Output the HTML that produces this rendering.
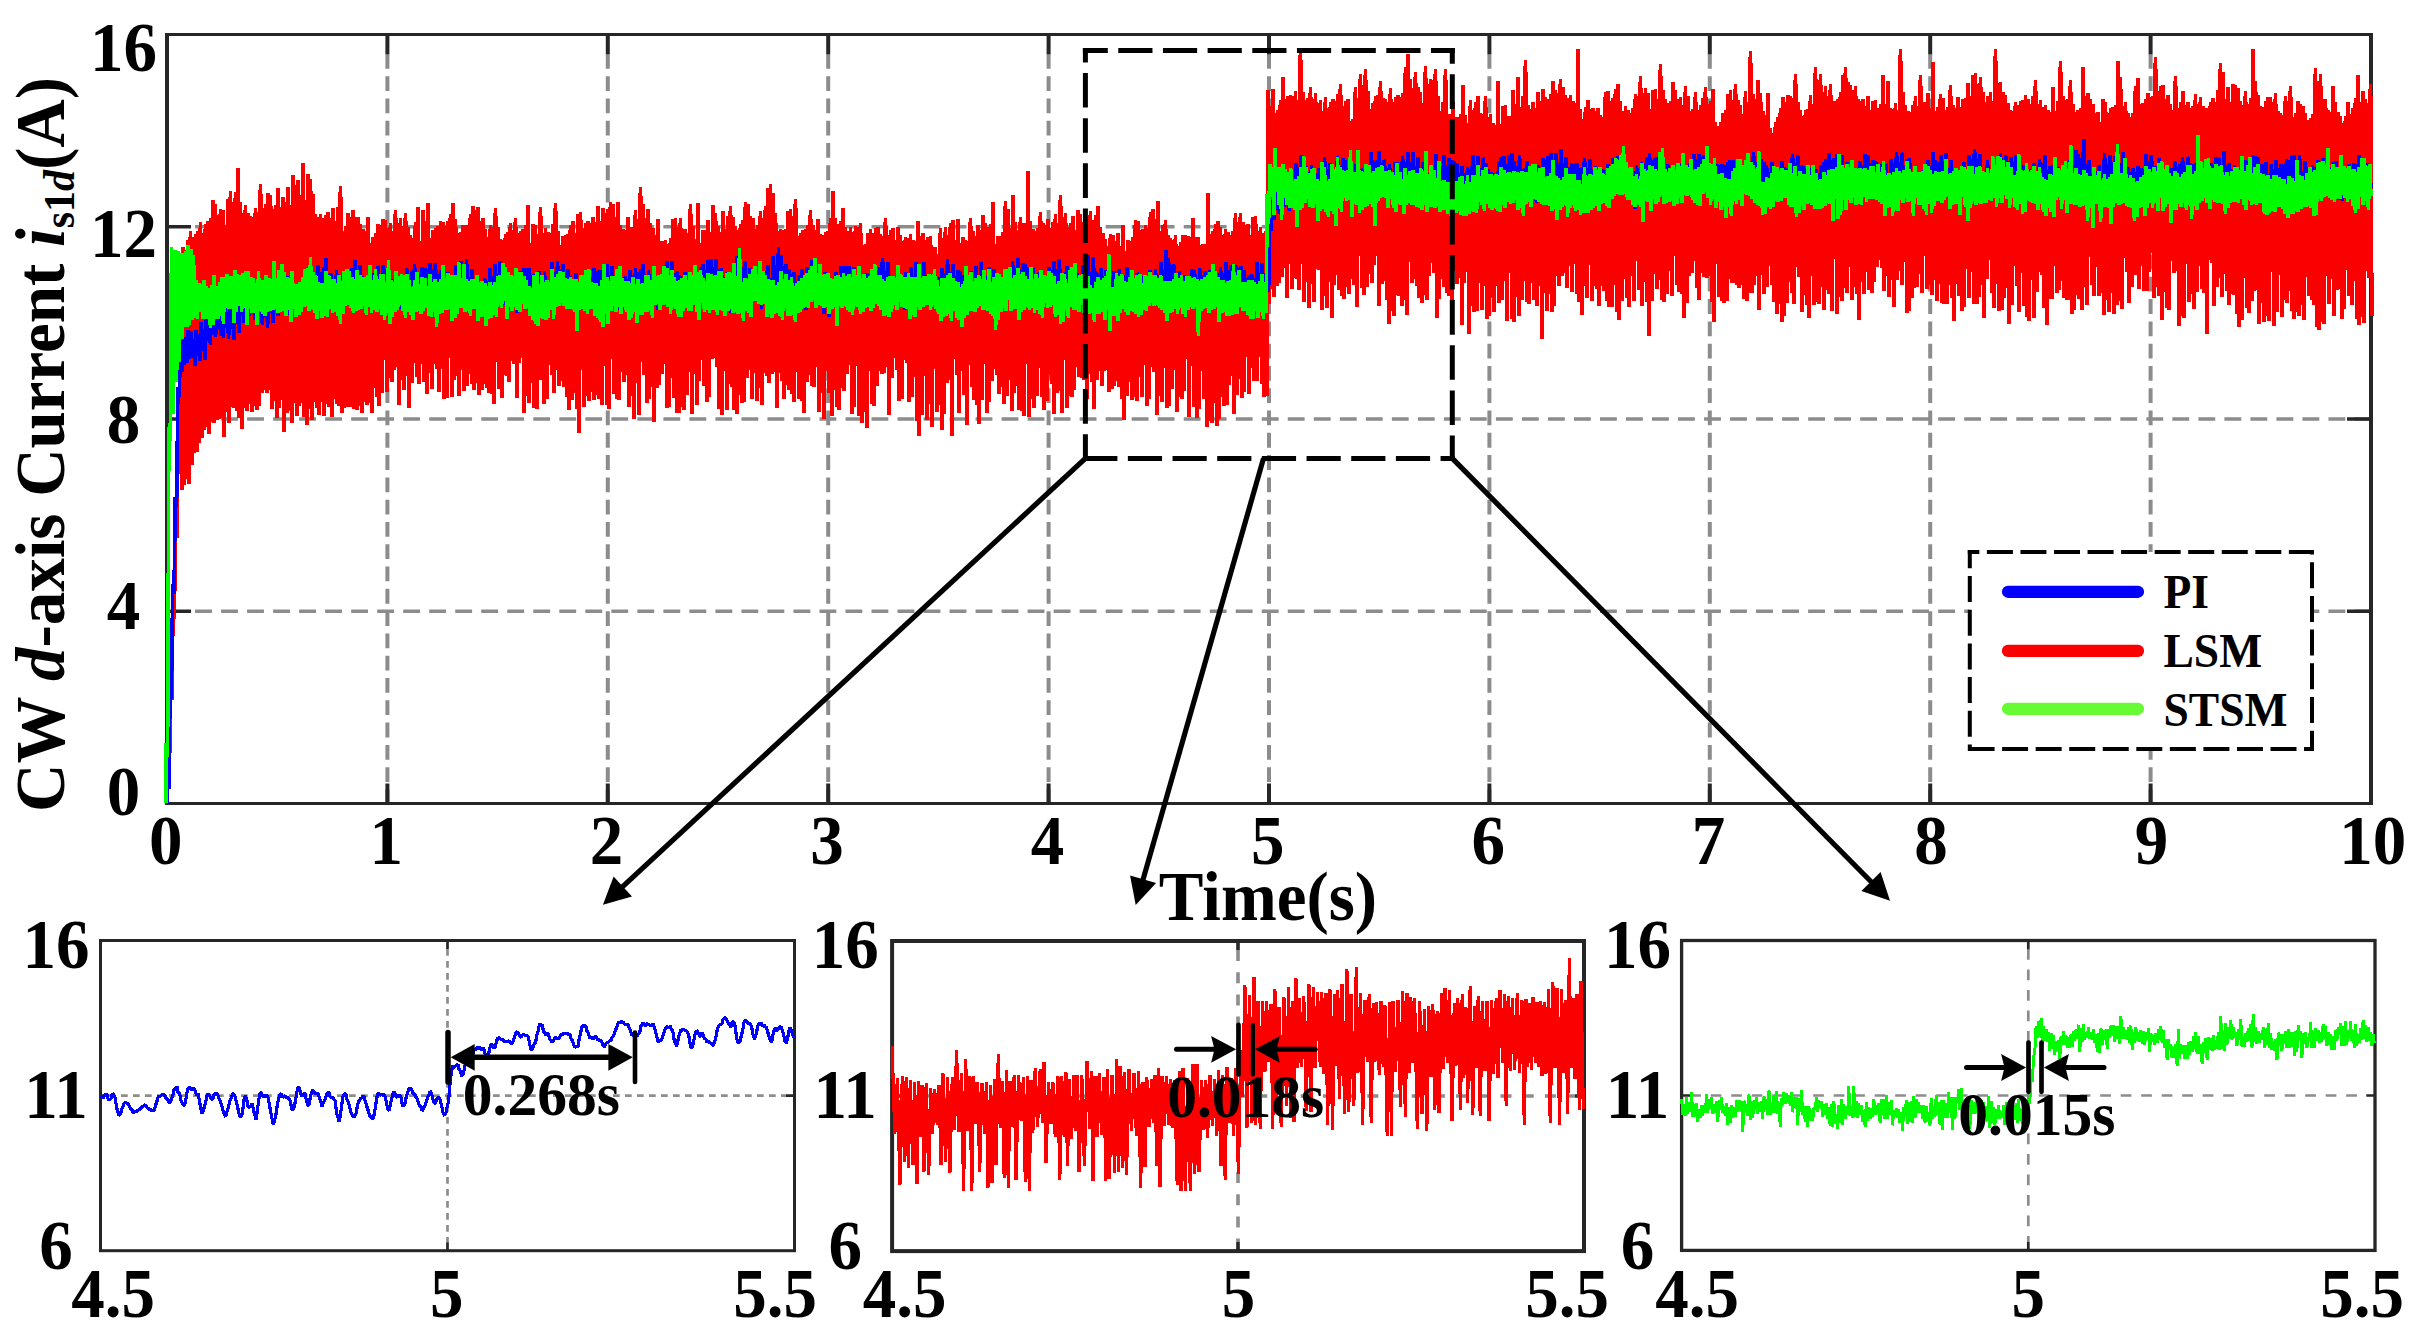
<!DOCTYPE html>
<html lang="en"><head><meta charset="utf-8"><title>CW d-axis Current comparison: PI, LSM, STSM</title>
<style>html,body{margin:0;padding:0;background:#fff;}body{width:2418px;height:1340px;overflow:hidden;}svg{display:block;}</style>
</head><body>
<svg width="2418" height="1340" viewBox="0 0 2418 1340">
<rect x="0" y="0" width="2418" height="1340" fill="#fff"/>
<g id="main-axes" fill="none" stroke="#262626">
<g stroke="#8c8c8c">
<line x1="387.4" y1="54.6" x2="387.4" y2="803.5" stroke-width="4" stroke-dasharray="14.8 7.49" stroke-dashoffset="0.70"/>
<line x1="607.8" y1="54.6" x2="607.8" y2="803.5" stroke-width="4" stroke-dasharray="14.8 7.49" stroke-dashoffset="0.70"/>
<line x1="828.2" y1="54.6" x2="828.2" y2="803.5" stroke-width="4" stroke-dasharray="14.8 7.49" stroke-dashoffset="0.70"/>
<line x1="1048.6" y1="54.6" x2="1048.6" y2="803.5" stroke-width="4" stroke-dasharray="14.8 7.49" stroke-dashoffset="0.70"/>
<line x1="1269.0" y1="54.6" x2="1269.0" y2="803.5" stroke-width="4" stroke-dasharray="14.8 7.49" stroke-dashoffset="0.70"/>
<line x1="1489.4" y1="54.6" x2="1489.4" y2="803.5" stroke-width="4" stroke-dasharray="14.8 7.49" stroke-dashoffset="0.70"/>
<line x1="1709.8" y1="54.6" x2="1709.8" y2="803.5" stroke-width="4" stroke-dasharray="14.8 7.49" stroke-dashoffset="0.70"/>
<line x1="1930.2" y1="54.6" x2="1930.2" y2="803.5" stroke-width="4" stroke-dasharray="14.8 7.49" stroke-dashoffset="0.70"/>
<line x1="2150.6" y1="54.6" x2="2150.6" y2="803.5" stroke-width="4" stroke-dasharray="14.8 7.49" stroke-dashoffset="0.70"/>
<line x1="191.0" y1="611.2" x2="2371.0" y2="611.2" stroke-width="3.4" stroke-dasharray="16.85 9.167" stroke-dashoffset="21.95"/>
<line x1="191.0" y1="419.0" x2="2371.0" y2="419.0" stroke-width="3.4" stroke-dasharray="16.85 9.167" stroke-dashoffset="21.95"/>
<line x1="191.0" y1="226.8" x2="2371.0" y2="226.8" stroke-width="3.4" stroke-dasharray="16.85 9.167" stroke-dashoffset="21.95"/>
</g>
<path d="M165 34.5H2373M165 803.5H2373" stroke-width="3"/>
<path d="M167 33V805M2371 33V805" stroke-width="4"/>
<path d="M387.4 36V54.6M387.4 802V783.4M607.8 36V54.6M607.8 802V783.4M828.2 36V54.6M828.2 802V783.4M1048.6 36V54.6M1048.6 802V783.4M1269.0 36V54.6M1269.0 802V783.4M1489.4 36V54.6M1489.4 802V783.4M1709.8 36V54.6M1709.8 802V783.4M1930.2 36V54.6M1930.2 802V783.4M2150.6 36V54.6M2150.6 802V783.4" stroke-width="4"/>
<path d="M169 611.2H191M2369 611.2H2347M169 419.0H191M2369 419.0H2347M169 226.8H191M2369 226.8H2347" stroke-width="3.4"/>
</g>
<g id="main-data" fill="none" stroke-linejoin="bevel" stroke-linecap="butt" shape-rendering="crispEdges">
<polyline stroke="#fb0000" stroke-width="3.9" points="167.0,803.5 168.0,761.6 169.2,780.8 170.5,680.7 171.8,699.9 173.0,599.9 174.2,619.1 175.5,519.0 176.8,538.3 178.0,438.2 179.2,457.4 180.5,258.7 181.8,489.7 183.0,247.4 184.2,484.9 185.5,250.5 186.8,479.0 188.0,240.0 189.2,484.2 190.5,230.6 191.8,465.0 193.0,236.6 194.2,452.7 195.5,234.0 196.8,452.1 198.0,231.2 199.2,442.6 200.5,222.5 201.8,438.0 203.0,234.0 204.2,429.7 205.5,223.7 206.8,426.9 208.0,220.9 209.2,434.4 210.5,218.5 211.8,422.4 213.0,199.7 214.2,422.6 215.5,203.9 216.8,420.1 218.0,221.3 219.2,419.3 220.5,208.8 221.8,418.2 223.0,210.3 224.2,436.5 225.5,224.7 226.8,412.3 228.0,199.2 229.2,423.1 230.5,190.9 231.8,407.4 233.0,203.5 234.2,407.7 235.5,191.6 236.8,411.1 238.0,168.3 239.2,418.3 240.5,201.6 241.8,428.6 243.0,212.8 244.2,408.4 245.5,204.9 246.8,410.5 248.0,213.4 249.2,404.4 250.5,216.2 251.8,412.3 253.0,217.0 254.2,406.3 255.5,208.5 256.8,410.2 258.0,212.0 259.2,406.1 260.5,184.3 261.8,392.8 263.0,207.8 264.2,389.7 265.5,204.4 266.8,393.1 268.0,193.3 269.2,389.6 270.5,195.2 271.8,409.2 273.0,208.8 274.2,401.3 275.5,204.7 276.8,417.5 278.0,187.8 279.2,407.5 280.5,206.9 281.8,400.2 283.0,197.2 284.2,432.2 285.5,201.7 286.8,413.3 288.0,186.8 289.2,410.5 290.5,205.1 291.8,423.0 293.0,175.5 294.2,402.8 295.5,185.4 296.8,416.0 298.0,180.3 299.2,405.8 300.5,195.1 301.8,403.1 303.0,163.5 304.2,417.3 305.5,200.4 306.8,424.9 308.0,173.6 309.2,408.6 310.5,179.1 311.8,420.0 313.0,194.4 314.2,401.7 315.5,213.7 316.8,408.3 318.0,217.0 319.2,414.5 320.5,214.0 321.8,402.3 323.0,217.7 324.2,415.6 325.5,214.6 326.8,404.0 328.0,212.5 329.2,407.0 330.5,217.6 331.8,417.1 333.0,208.0 334.2,398.8 335.5,221.1 336.8,404.0 338.0,206.7 339.2,405.7 340.5,186.4 341.8,413.4 343.0,231.5 344.2,407.6 345.5,225.8 346.8,407.1 348.0,213.4 349.2,407.0 350.5,217.4 351.8,407.3 353.0,209.9 354.2,409.1 355.5,217.4 356.8,409.9 358.0,216.9 359.2,405.9 360.5,223.8 361.8,412.6 363.0,228.8 364.2,401.7 365.5,231.5 366.8,405.4 368.0,217.0 369.2,403.0 370.5,242.8 371.8,413.1 373.0,237.4 374.2,387.8 375.5,233.2 376.8,396.5 378.0,223.6 379.2,406.1 380.5,225.3 381.8,393.4 383.0,219.5 384.2,360.2 385.5,220.1 386.8,392.3 388.0,231.8 389.2,378.4 390.5,222.8 391.8,381.9 393.0,233.5 394.2,370.0 395.5,209.8 396.8,366.8 398.0,230.2 399.2,405.2 400.5,217.9 401.8,380.3 403.0,242.7 404.2,390.3 405.5,212.9 406.8,375.6 408.0,226.9 409.2,407.5 410.5,235.1 411.8,382.8 413.0,237.9 414.2,362.7 415.5,222.1 416.8,376.6 418.0,206.9 419.2,383.6 420.5,240.7 421.8,363.6 423.0,209.7 424.2,382.2 425.5,221.2 426.8,394.1 428.0,203.2 429.2,373.3 430.5,238.1 431.8,388.5 433.0,230.1 434.2,363.7 435.5,228.0 436.8,368.8 438.0,226.5 439.2,392.4 440.5,220.7 441.8,368.5 443.0,222.5 444.2,399.1 445.5,225.9 446.8,397.6 448.0,220.9 449.2,358.4 450.5,214.1 451.8,396.7 453.0,202.7 454.2,379.6 455.5,219.2 456.8,376.3 458.0,233.2 459.2,396.0 460.5,231.9 461.8,369.7 463.0,224.9 464.2,391.4 465.5,225.0 466.8,385.9 468.0,224.8 469.2,374.1 470.5,214.4 471.8,383.8 473.0,206.5 474.2,389.8 475.5,209.7 476.8,382.7 478.0,207.0 479.2,395.3 480.5,220.7 481.8,389.9 483.0,218.1 484.2,384.3 485.5,228.9 486.8,387.8 488.0,244.4 489.2,392.7 490.5,225.2 491.8,394.0 493.0,227.5 494.2,404.0 495.5,208.3 496.8,362.0 498.0,227.0 499.2,389.4 500.5,239.1 501.8,398.1 503.0,240.0 504.2,375.4 505.5,234.2 506.8,375.5 508.0,232.4 509.2,381.5 510.5,223.0 511.8,360.9 513.0,240.9 514.2,363.5 515.5,218.4 516.8,398.3 518.0,232.8 519.2,363.2 520.5,231.1 521.8,358.0 523.0,228.9 524.2,413.2 525.5,225.2 526.8,396.4 528.0,205.4 529.2,403.1 530.5,242.8 531.8,382.7 533.0,224.4 534.2,408.0 535.5,225.0 536.8,409.0 538.0,244.8 539.2,380.1 540.5,206.9 541.8,380.4 543.0,233.0 544.2,404.0 545.5,228.0 546.8,399.2 548.0,232.0 549.2,365.0 550.5,232.7 551.8,375.4 553.0,224.1 554.2,392.5 555.5,202.6 556.8,369.7 558.0,230.9 559.2,385.7 560.5,245.4 561.8,380.8 563.0,235.8 564.2,386.5 565.5,235.2 566.8,397.3 568.0,234.4 569.2,409.6 570.5,224.7 571.8,400.1 573.0,221.1 574.2,392.9 575.5,233.3 576.8,408.5 578.0,214.0 579.2,432.8 580.5,212.2 581.8,359.9 583.0,229.0 584.2,407.0 585.5,222.7 586.8,395.9 588.0,221.3 589.2,401.1 590.5,222.6 591.8,391.9 593.0,217.3 594.2,399.8 595.5,222.0 596.8,394.6 598.0,206.0 599.2,398.7 600.5,220.7 601.8,405.0 603.0,208.3 604.2,366.4 605.5,213.1 606.8,404.8 608.0,208.6 609.2,408.7 610.5,201.6 611.8,358.6 613.0,204.0 614.2,393.9 615.5,217.0 616.8,399.3 618.0,202.5 619.2,399.9 620.5,225.2 621.8,372.0 623.0,229.0 624.2,381.7 625.5,229.6 626.8,375.4 628.0,216.9 629.2,406.9 630.5,226.6 631.8,395.7 633.0,226.9 634.2,418.7 635.5,209.7 636.8,383.3 638.0,226.1 639.2,414.9 640.5,187.3 641.8,362.1 643.0,203.6 644.2,375.2 645.5,218.1 646.8,402.6 648.0,208.7 649.2,399.4 650.5,223.4 651.8,387.3 653.0,227.8 654.2,421.7 655.5,234.6 656.8,388.4 658.0,218.9 659.2,385.4 660.5,240.7 661.8,373.8 663.0,241.5 664.2,359.3 665.5,240.2 666.8,408.3 668.0,244.4 669.2,407.1 670.5,237.8 671.8,377.6 673.0,219.4 674.2,397.9 675.5,218.3 676.8,412.9 678.0,227.4 679.2,412.6 680.5,217.8 681.8,406.5 683.0,228.9 684.2,409.7 685.5,228.9 686.8,395.3 688.0,233.2 689.2,371.5 690.5,204.0 691.8,413.8 693.0,226.2 694.2,373.8 695.5,239.4 696.8,405.2 698.0,203.1 699.2,381.3 700.5,243.2 701.8,359.9 703.0,229.7 704.2,385.5 705.5,230.4 706.8,402.1 708.0,220.4 709.2,396.6 710.5,232.2 711.8,358.5 713.0,204.8 714.2,358.2 715.5,212.8 716.8,367.2 718.0,225.9 719.2,409.3 720.5,231.7 721.8,414.8 723.0,211.2 724.2,370.7 725.5,228.8 726.8,409.8 728.0,216.2 729.2,383.5 730.5,205.8 731.8,387.1 733.0,217.1 734.2,410.0 735.5,225.7 736.8,413.5 738.0,230.0 739.2,394.6 740.5,224.1 741.8,403.3 743.0,220.3 744.2,401.8 745.5,201.9 746.8,377.7 748.0,204.2 749.2,370.3 750.5,215.6 751.8,398.6 753.0,217.9 754.2,372.9 755.5,228.6 756.8,400.9 758.0,224.7 759.2,387.9 760.5,211.5 761.8,404.8 763.0,218.3 764.2,372.8 765.5,206.4 766.8,376.0 768.0,188.2 769.2,383.3 770.5,183.9 771.8,373.9 773.0,193.4 774.2,371.8 775.5,213.5 776.8,408.0 778.0,230.6 779.2,373.2 780.5,229.1 781.8,381.1 783.0,230.4 784.2,398.6 785.5,228.6 786.8,384.8 788.0,211.0 789.2,389.8 790.5,209.1 791.8,393.9 793.0,216.2 794.2,401.9 795.5,199.5 796.8,372.2 798.0,236.5 799.2,398.9 800.5,233.0 801.8,400.6 803.0,229.7 804.2,413.4 805.5,228.8 806.8,382.3 808.0,225.3 809.2,375.1 810.5,210.1 811.8,386.2 813.0,225.1 814.2,387.3 815.5,230.5 816.8,366.7 818.0,218.9 819.2,411.6 820.5,233.9 821.8,392.9 823.0,235.5 824.2,418.9 825.5,232.4 826.8,370.5 828.0,231.5 829.2,393.4 830.5,217.8 831.8,416.0 833.0,190.9 834.2,389.5 835.5,218.0 836.8,406.8 838.0,223.6 839.2,409.6 840.5,221.5 841.8,387.6 843.0,207.6 844.2,391.0 845.5,227.2 846.8,374.2 848.0,231.4 849.2,363.8 850.5,227.2 851.8,414.1 853.0,232.1 854.2,406.6 855.5,225.9 856.8,366.1 858.0,226.9 859.2,415.8 860.5,223.5 861.8,423.2 863.0,244.8 864.2,412.4 865.5,244.1 866.8,428.1 868.0,233.3 869.2,371.4 870.5,229.5 871.8,403.8 873.0,232.9 874.2,406.0 875.5,228.2 876.8,385.6 878.0,227.5 879.2,370.9 880.5,234.4 881.8,374.0 883.0,236.2 884.2,373.2 885.5,218.4 886.8,367.0 888.0,242.4 889.2,414.8 890.5,229.8 891.8,378.1 893.0,227.7 894.2,358.3 895.5,239.7 896.8,370.4 898.0,227.3 899.2,401.3 900.5,234.6 901.8,398.6 903.0,241.1 904.2,360.3 905.5,236.9 906.8,362.9 908.0,237.8 909.2,401.9 910.5,234.3 911.8,397.4 913.0,240.0 914.2,377.2 915.5,241.1 916.8,421.0 918.0,220.6 919.2,435.8 920.5,236.5 921.8,414.7 923.0,232.8 924.2,376.2 925.5,240.2 926.8,420.2 928.0,237.2 929.2,403.7 930.5,236.4 931.8,426.7 933.0,246.6 934.2,368.8 935.5,247.1 936.8,412.1 938.0,253.7 939.2,404.7 940.5,228.4 941.8,430.0 943.0,257.1 944.2,414.3 945.5,226.7 946.8,382.8 948.0,242.7 949.2,374.2 950.5,223.2 951.8,435.8 953.0,219.8 954.2,358.9 955.5,239.9 956.8,375.1 958.0,218.7 959.2,412.8 960.5,243.1 961.8,370.7 963.0,237.1 964.2,394.9 965.5,240.1 966.8,425.1 968.0,241.3 969.2,364.7 970.5,218.2 971.8,387.0 973.0,231.3 974.2,400.0 975.5,235.6 976.8,405.0 978.0,225.5 979.2,423.7 980.5,229.9 981.8,400.2 983.0,214.8 984.2,363.3 985.5,222.6 986.8,413.2 988.0,227.0 989.2,402.2 990.5,224.5 991.8,381.1 993.0,201.7 994.2,369.0 995.5,244.5 996.8,375.3 998.0,235.6 999.2,393.9 1000.5,235.7 1001.8,386.9 1003.0,232.3 1004.2,403.7 1005.5,200.6 1006.8,395.9 1008.0,208.8 1009.2,379.7 1010.5,228.4 1011.8,410.5 1013.0,195.0 1014.2,393.3 1015.5,222.1 1016.8,386.0 1018.0,230.0 1019.2,409.5 1020.5,216.9 1021.8,411.0 1023.0,223.0 1024.2,416.2 1025.5,223.4 1026.8,364.4 1028.0,171.5 1029.2,417.2 1030.5,221.0 1031.8,399.1 1033.0,229.4 1034.2,408.4 1035.5,231.3 1036.8,395.7 1038.0,228.1 1039.2,367.8 1040.5,212.4 1041.8,396.5 1043.0,223.3 1044.2,410.2 1045.5,224.6 1046.8,400.9 1048.0,219.0 1049.2,374.8 1050.5,228.5 1051.8,384.1 1053.0,221.9 1054.2,413.7 1055.5,213.7 1056.8,393.3 1058.0,223.4 1059.2,391.0 1060.5,195.5 1061.8,412.8 1063.0,223.9 1064.2,360.2 1065.5,213.3 1066.8,408.4 1068.0,227.5 1069.2,395.5 1070.5,223.5 1071.8,396.8 1073.0,216.5 1074.2,390.0 1075.5,230.1 1076.8,367.3 1078.0,210.1 1079.2,376.9 1080.5,214.1 1081.8,378.3 1083.0,223.5 1084.2,379.5 1085.5,215.9 1086.8,399.2 1088.0,219.4 1089.2,373.5 1090.5,210.7 1091.8,381.6 1093.0,230.3 1094.2,409.0 1095.5,214.6 1096.8,379.8 1098.0,206.0 1099.2,371.1 1100.5,227.1 1101.8,385.6 1103.0,233.4 1104.2,371.3 1105.5,238.7 1106.8,369.5 1108.0,248.8 1109.2,391.8 1110.5,233.9 1111.8,388.6 1113.0,234.7 1114.2,386.4 1115.5,240.9 1116.8,381.0 1118.0,232.6 1119.2,386.7 1120.5,245.8 1121.8,398.9 1123.0,224.6 1124.2,419.8 1125.5,251.1 1126.8,395.6 1128.0,239.9 1129.2,381.7 1130.5,240.7 1131.8,400.2 1133.0,237.4 1134.2,397.2 1135.5,220.5 1136.8,400.8 1138.0,220.8 1139.2,377.3 1140.5,230.1 1141.8,397.3 1143.0,229.1 1144.2,365.3 1145.5,225.1 1146.8,406.4 1148.0,227.9 1149.2,399.1 1150.5,211.8 1151.8,366.5 1153.0,209.0 1154.2,371.5 1155.5,218.6 1156.8,415.2 1158.0,200.6 1159.2,396.4 1160.5,231.3 1161.8,401.8 1163.0,224.9 1164.2,368.4 1165.5,220.4 1166.8,408.1 1168.0,235.1 1169.2,405.9 1170.5,238.1 1171.8,388.6 1173.0,240.4 1174.2,369.6 1175.5,235.1 1176.8,411.9 1178.0,245.7 1179.2,397.4 1180.5,241.9 1181.8,399.0 1183.0,234.7 1184.2,391.4 1185.5,235.5 1186.8,359.1 1188.0,236.0 1189.2,416.7 1190.5,237.2 1191.8,366.2 1193.0,218.0 1194.2,407.2 1195.5,236.7 1196.8,417.9 1198.0,237.2 1199.2,408.8 1200.5,245.5 1201.8,370.9 1203.0,244.2 1204.2,398.8 1205.5,244.1 1206.8,427.3 1208.0,192.6 1209.2,421.1 1210.5,233.9 1211.8,422.6 1213.0,230.8 1214.2,403.0 1215.5,224.2 1216.8,426.2 1218.0,221.5 1219.2,418.7 1220.5,226.6 1221.8,396.5 1223.0,237.7 1224.2,406.3 1225.5,229.3 1226.8,404.5 1228.0,232.0 1229.2,385.1 1230.5,234.6 1231.8,375.6 1233.0,231.4 1234.2,413.6 1235.5,213.5 1236.8,395.0 1238.0,224.3 1239.2,379.1 1240.5,213.1 1241.8,397.5 1243.0,222.5 1244.2,392.3 1245.5,225.4 1246.8,356.9 1248.0,224.0 1249.2,393.6 1250.5,234.8 1251.8,367.5 1253.0,216.8 1254.2,381.2 1255.5,216.2 1256.8,381.1 1258.0,235.3 1259.2,357.3 1260.5,226.9 1261.8,383.6 1263.0,233.1 1264.2,397.0 1265.5,231.5 1266.8,395.9 1268.0,90.3 1269.2,304.1 1270.5,106.4 1271.8,289.1 1273.0,89.5 1274.2,297.1 1275.5,113.3 1276.8,286.4 1278.0,110.5 1279.2,282.6 1280.5,99.9 1281.8,277.2 1283.0,77.2 1284.2,268.0 1285.5,99.2 1286.8,297.8 1288.0,96.4 1289.2,263.7 1290.5,95.2 1291.8,289.2 1293.0,95.9 1294.2,277.9 1295.5,90.8 1296.8,278.9 1298.0,100.3 1299.2,290.3 1300.5,48.9 1301.8,264.0 1303.0,91.8 1304.2,302.3 1305.5,100.2 1306.8,282.0 1308.0,98.3 1309.2,308.1 1310.5,87.4 1311.8,284.4 1313.0,106.8 1314.2,302.0 1315.5,93.4 1316.8,269.0 1318.0,103.0 1319.2,269.8 1320.5,100.1 1321.8,310.3 1323.0,112.6 1324.2,296.0 1325.5,97.0 1326.8,307.7 1328.0,108.6 1329.2,281.8 1330.5,102.5 1331.8,317.5 1333.0,99.3 1334.2,285.3 1335.5,101.5 1336.8,275.0 1338.0,94.3 1339.2,289.7 1340.5,84.4 1341.8,295.8 1343.0,112.1 1344.2,299.0 1345.5,101.5 1346.8,287.0 1348.0,98.8 1349.2,294.4 1350.5,120.7 1351.8,278.7 1353.0,119.2 1354.2,285.4 1355.5,87.5 1356.8,307.0 1358.0,111.4 1359.2,255.9 1360.5,73.8 1361.8,288.0 1363.0,109.3 1364.2,294.6 1365.5,69.1 1366.8,286.6 1368.0,91.5 1369.2,274.3 1370.5,108.8 1371.8,283.1 1373.0,103.2 1374.2,265.4 1375.5,95.9 1376.8,256.0 1378.0,95.2 1379.2,305.5 1380.5,81.1 1381.8,283.8 1383.0,97.7 1384.2,280.6 1385.5,99.4 1386.8,300.0 1388.0,101.8 1389.2,323.8 1390.5,87.9 1391.8,310.7 1393.0,102.2 1394.2,316.2 1395.5,97.0 1396.8,295.3 1398.0,95.3 1399.2,296.1 1400.5,96.7 1401.8,305.8 1403.0,92.8 1404.2,300.2 1405.5,66.7 1406.8,315.3 1408.0,53.6 1409.2,261.6 1410.5,78.7 1411.8,282.5 1413.0,88.4 1414.2,278.8 1415.5,72.3 1416.8,285.8 1418.0,87.4 1419.2,298.0 1420.5,92.3 1421.8,302.6 1423.0,106.9 1424.2,295.1 1425.5,66.5 1426.8,299.7 1428.0,85.2 1429.2,276.3 1430.5,78.9 1431.8,262.7 1433.0,79.7 1434.2,273.2 1435.5,69.1 1436.8,317.5 1438.0,96.2 1439.2,299.1 1440.5,111.4 1441.8,279.4 1443.0,102.2 1444.2,286.7 1445.5,68.7 1446.8,293.4 1448.0,113.8 1449.2,295.5 1450.5,114.4 1451.8,314.4 1453.0,102.2 1454.2,270.7 1455.5,117.5 1456.8,284.3 1458.0,117.2 1459.2,277.7 1460.5,113.9 1461.8,325.3 1463.0,85.0 1464.2,283.4 1465.5,114.8 1466.8,272.0 1468.0,122.8 1469.2,334.3 1470.5,99.9 1471.8,306.2 1473.0,112.0 1474.2,311.7 1475.5,102.2 1476.8,310.7 1478.0,95.6 1479.2,283.2 1480.5,113.1 1481.8,309.7 1483.0,114.1 1484.2,285.5 1485.5,96.4 1486.8,318.8 1488.0,117.0 1489.2,315.9 1490.5,114.5 1491.8,297.6 1493.0,122.6 1494.2,311.5 1495.5,124.9 1496.8,285.9 1498.0,81.1 1499.2,302.7 1500.5,124.2 1501.8,299.6 1503.0,105.9 1504.2,281.3 1505.5,104.7 1506.8,320.7 1508.0,116.3 1509.2,272.6 1510.5,115.6 1511.8,319.1 1513.0,90.3 1514.2,322.2 1515.5,104.3 1516.8,297.2 1518.0,76.7 1519.2,316.0 1520.5,106.8 1521.8,300.0 1523.0,95.8 1524.2,281.2 1525.5,59.6 1526.8,301.7 1528.0,105.2 1529.2,303.7 1530.5,109.3 1531.8,282.6 1533.0,102.0 1534.2,300.0 1535.5,107.6 1536.8,306.1 1538.0,91.7 1539.2,286.1 1540.5,101.2 1541.8,339.0 1543.0,89.4 1544.2,292.6 1545.5,97.2 1546.8,311.1 1548.0,98.8 1549.2,294.1 1550.5,94.0 1551.8,312.0 1553.0,81.3 1554.2,306.2 1555.5,90.0 1556.8,276.4 1558.0,93.3 1559.2,286.0 1560.5,79.0 1561.8,276.0 1563.0,87.0 1564.2,272.7 1565.5,95.5 1566.8,288.0 1568.0,97.8 1569.2,265.9 1570.5,95.2 1571.8,291.7 1573.0,101.3 1574.2,263.6 1575.5,103.4 1576.8,293.7 1578.0,48.9 1579.2,302.0 1580.5,108.7 1581.8,315.4 1583.0,119.2 1584.2,285.8 1585.5,106.8 1586.8,297.6 1588.0,99.6 1589.2,264.5 1590.5,109.3 1591.8,300.6 1593.0,108.5 1594.2,285.6 1595.5,111.1 1596.8,288.5 1598.0,108.5 1599.2,305.6 1600.5,115.0 1601.8,286.1 1603.0,116.8 1604.2,291.2 1605.5,92.0 1606.8,301.4 1608.0,91.5 1609.2,307.2 1610.5,101.4 1611.8,306.5 1613.0,98.1 1614.2,285.3 1615.5,89.1 1616.8,311.5 1618.0,83.8 1619.2,320.3 1620.5,101.2 1621.8,300.8 1623.0,114.6 1624.2,279.4 1625.5,106.2 1626.8,297.9 1628.0,110.0 1629.2,306.7 1630.5,113.2 1631.8,276.3 1633.0,107.6 1634.2,301.2 1635.5,94.2 1636.8,260.9 1638.0,95.6 1639.2,289.8 1640.5,76.4 1641.8,306.0 1643.0,96.5 1644.2,281.8 1645.5,88.2 1646.8,302.1 1648.0,93.4 1649.2,336.3 1650.5,109.5 1651.8,301.3 1653.0,90.1 1654.2,273.9 1655.5,89.2 1656.8,288.9 1658.0,101.2 1659.2,280.1 1660.5,63.6 1661.8,299.5 1663.0,90.2 1664.2,302.2 1665.5,99.0 1666.8,293.6 1668.0,103.2 1669.2,270.8 1670.5,100.9 1671.8,295.6 1673.0,82.5 1674.2,256.1 1675.5,89.7 1676.8,284.5 1678.0,98.6 1679.2,291.5 1680.5,97.0 1681.8,293.8 1683.0,104.6 1684.2,318.2 1685.5,85.6 1686.8,302.7 1688.0,95.7 1689.2,275.5 1690.5,111.3 1691.8,272.5 1693.0,109.5 1694.2,260.9 1695.5,92.4 1696.8,288.1 1698.0,109.6 1699.2,300.4 1700.5,104.7 1701.8,272.9 1703.0,98.0 1704.2,277.0 1705.5,87.2 1706.8,277.8 1708.0,104.1 1709.2,275.5 1710.5,101.4 1711.8,302.2 1713.0,89.1 1714.2,322.2 1715.5,121.8 1716.8,255.6 1718.0,125.6 1719.2,296.8 1720.5,122.2 1721.8,301.0 1723.0,112.8 1724.2,303.1 1725.5,110.2 1726.8,300.6 1728.0,93.9 1729.2,278.8 1730.5,90.0 1731.8,283.1 1733.0,101.3 1734.2,282.9 1735.5,84.5 1736.8,284.6 1738.0,100.0 1739.2,287.9 1740.5,105.1 1741.8,285.3 1743.0,113.8 1744.2,298.9 1745.5,90.6 1746.8,300.9 1748.0,109.7 1749.2,293.3 1750.5,51.4 1751.8,292.6 1753.0,94.2 1754.2,284.7 1755.5,98.8 1756.8,276.1 1758.0,80.3 1759.2,310.4 1760.5,93.1 1761.8,275.3 1763.0,110.9 1764.2,293.8 1765.5,115.0 1766.8,286.9 1768.0,92.9 1769.2,265.8 1770.5,127.9 1771.8,285.2 1773.0,133.4 1774.2,301.6 1775.5,122.1 1776.8,313.6 1778.0,117.1 1779.2,303.5 1780.5,108.4 1781.8,322.3 1783.0,97.3 1784.2,315.8 1785.5,101.9 1786.8,303.4 1788.0,95.0 1789.2,281.9 1790.5,95.7 1791.8,292.7 1793.0,98.0 1794.2,304.3 1795.5,73.9 1796.8,267.1 1798.0,102.0 1799.2,276.5 1800.5,109.9 1801.8,311.8 1803.0,116.3 1804.2,294.5 1805.5,110.1 1806.8,304.5 1808.0,109.2 1809.2,318.0 1810.5,95.0 1811.8,276.1 1813.0,104.1 1814.2,305.3 1815.5,67.3 1816.8,302.0 1818.0,100.1 1819.2,304.0 1820.5,73.8 1821.8,286.7 1823.0,98.9 1824.2,309.9 1825.5,86.4 1826.8,290.2 1828.0,96.3 1829.2,294.0 1830.5,84.4 1831.8,311.1 1833.0,101.3 1834.2,252.5 1835.5,101.4 1836.8,313.9 1838.0,98.7 1839.2,296.5 1840.5,91.8 1841.8,300.7 1843.0,75.4 1844.2,287.6 1845.5,66.7 1846.8,293.3 1848.0,82.3 1849.2,267.4 1850.5,84.8 1851.8,300.4 1853.0,90.2 1854.2,286.9 1855.5,86.2 1856.8,294.0 1858.0,99.5 1859.2,320.4 1860.5,101.1 1861.8,282.2 1863.0,98.6 1864.2,293.7 1865.5,106.4 1866.8,272.2 1868.0,96.5 1869.2,289.8 1870.5,109.9 1871.8,292.7 1873.0,101.1 1874.2,282.1 1875.5,100.4 1876.8,266.9 1878.0,111.7 1879.2,259.8 1880.5,104.0 1881.8,267.9 1883.0,75.4 1884.2,290.9 1885.5,104.0 1886.8,276.0 1888.0,80.6 1889.2,296.6 1890.5,107.9 1891.8,279.8 1893.0,108.9 1894.2,306.5 1895.5,103.4 1896.8,279.6 1898.0,110.0 1899.2,271.0 1900.5,48.9 1901.8,285.3 1903.0,92.0 1904.2,262.2 1905.5,105.2 1906.8,313.2 1908.0,111.4 1909.2,311.4 1910.5,112.1 1911.8,298.1 1913.0,104.6 1914.2,288.1 1915.5,95.7 1916.8,287.2 1918.0,108.9 1919.2,274.4 1920.5,74.7 1921.8,293.2 1923.0,101.6 1924.2,255.7 1925.5,101.8 1926.8,289.3 1928.0,92.9 1929.2,284.6 1930.5,108.4 1931.8,294.8 1933.0,62.2 1934.2,280.3 1935.5,111.4 1936.8,300.8 1938.0,106.7 1939.2,284.0 1940.5,93.8 1941.8,302.8 1943.0,97.7 1944.2,303.9 1945.5,109.7 1946.8,304.3 1948.0,106.8 1949.2,284.8 1950.5,84.8 1951.8,297.5 1953.0,105.1 1954.2,320.5 1955.5,107.6 1956.8,284.4 1958.0,96.9 1959.2,296.1 1960.5,106.7 1961.8,311.2 1963.0,99.3 1964.2,306.9 1965.5,97.7 1966.8,269.2 1968.0,83.5 1969.2,298.0 1970.5,95.9 1971.8,271.7 1973.0,75.3 1974.2,304.4 1975.5,73.2 1976.8,303.5 1978.0,84.3 1979.2,297.3 1980.5,76.7 1981.8,285.2 1983.0,91.8 1984.2,317.7 1985.5,102.5 1986.8,279.1 1988.0,96.1 1989.2,259.7 1990.5,92.1 1991.8,292.8 1993.0,101.4 1994.2,308.3 1995.5,48.9 1996.8,283.9 1998.0,83.2 1999.2,310.9 2000.5,81.7 2001.8,310.4 2003.0,92.1 2004.2,298.3 2005.5,95.3 2006.8,287.5 2008.0,103.5 2009.2,324.3 2010.5,110.0 2011.8,305.2 2013.0,110.9 2014.2,265.6 2015.5,102.0 2016.8,285.8 2018.0,104.9 2019.2,311.6 2020.5,101.1 2021.8,272.9 2023.0,99.6 2024.2,306.1 2025.5,95.4 2026.8,317.4 2028.0,99.5 2029.2,320.8 2030.5,104.0 2031.8,280.4 2033.0,96.2 2034.2,318.2 2035.5,79.9 2036.8,291.5 2038.0,104.1 2039.2,272.3 2040.5,100.2 2041.8,274.9 2043.0,107.2 2044.2,308.3 2045.5,104.8 2046.8,324.8 2048.0,110.3 2049.2,298.8 2050.5,111.8 2051.8,298.7 2053.0,86.8 2054.2,266.3 2055.5,111.4 2056.8,292.5 2058.0,100.8 2059.2,290.4 2060.5,60.9 2061.8,280.9 2063.0,96.0 2064.2,297.9 2065.5,99.9 2066.8,299.9 2068.0,99.1 2069.2,300.0 2070.5,80.2 2071.8,313.8 2073.0,104.2 2074.2,309.8 2075.5,111.7 2076.8,295.2 2078.0,109.9 2079.2,299.1 2080.5,108.1 2081.8,309.6 2083.0,66.6 2084.2,286.7 2085.5,95.8 2086.8,305.0 2088.0,92.9 2089.2,257.0 2090.5,98.8 2091.8,285.4 2093.0,103.8 2094.2,295.7 2095.5,112.9 2096.8,267.2 2098.0,112.1 2099.2,296.4 2100.5,121.6 2101.8,292.5 2103.0,99.2 2104.2,315.0 2105.5,102.2 2106.8,300.4 2108.0,115.4 2109.2,311.6 2110.5,108.3 2111.8,293.0 2113.0,106.9 2114.2,313.5 2115.5,105.5 2116.8,305.4 2118.0,61.1 2119.2,300.5 2120.5,76.8 2121.8,308.5 2123.0,105.6 2124.2,257.9 2125.5,101.6 2126.8,271.5 2128.0,112.8 2129.2,303.0 2130.5,117.0 2131.8,286.8 2133.0,112.8 2134.2,274.7 2135.5,86.3 2136.8,274.9 2138.0,78.3 2139.2,289.4 2140.5,104.1 2141.8,265.9 2143.0,102.6 2144.2,291.4 2145.5,99.3 2146.8,290.6 2148.0,92.9 2149.2,271.9 2150.5,96.6 2151.8,252.6 2153.0,95.7 2154.2,297.7 2155.5,57.5 2156.8,287.1 2158.0,93.3 2159.2,296.1 2160.5,86.5 2161.8,320.3 2163.0,85.0 2164.2,292.0 2165.5,98.6 2166.8,308.0 2168.0,95.3 2169.2,309.9 2170.5,104.2 2171.8,261.4 2173.0,110.3 2174.2,272.8 2175.5,76.4 2176.8,270.8 2178.0,112.3 2179.2,326.2 2180.5,102.2 2181.8,315.9 2183.0,91.1 2184.2,318.0 2185.5,105.4 2186.8,263.9 2188.0,101.6 2189.2,302.3 2190.5,108.2 2191.8,294.1 2193.0,106.3 2194.2,309.0 2195.5,93.7 2196.8,291.5 2198.0,106.0 2199.2,266.0 2200.5,97.1 2201.8,288.6 2203.0,105.8 2204.2,293.3 2205.5,108.5 2206.8,334.0 2208.0,108.5 2209.2,260.2 2210.5,102.1 2211.8,262.7 2213.0,98.2 2214.2,306.4 2215.5,102.1 2216.8,286.6 2218.0,90.2 2219.2,277.9 2220.5,63.4 2221.8,297.4 2223.0,72.1 2224.2,274.4 2225.5,99.0 2226.8,291.1 2228.0,87.4 2229.2,305.4 2230.5,101.7 2231.8,293.5 2233.0,84.1 2234.2,295.3 2235.5,85.1 2236.8,313.5 2238.0,87.7 2239.2,326.6 2240.5,101.4 2241.8,320.2 2243.0,105.2 2244.2,277.7 2245.5,90.9 2246.8,307.9 2248.0,106.3 2249.2,312.6 2250.5,98.3 2251.8,300.9 2253.0,48.9 2254.2,290.9 2255.5,80.6 2256.8,289.6 2258.0,95.3 2259.2,323.8 2260.5,106.3 2261.8,303.4 2263.0,106.8 2264.2,321.6 2265.5,101.0 2266.8,315.9 2268.0,97.4 2269.2,320.8 2270.5,97.0 2271.8,272.4 2273.0,102.0 2274.2,326.0 2275.5,92.9 2276.8,311.7 2278.0,110.9 2279.2,274.7 2280.5,112.8 2281.8,317.3 2283.0,115.3 2284.2,299.7 2285.5,95.7 2286.8,302.5 2288.0,101.5 2289.2,291.0 2290.5,85.8 2291.8,311.3 2293.0,117.4 2294.2,318.7 2295.5,113.2 2296.8,312.1 2298.0,100.9 2299.2,316.4 2300.5,103.8 2301.8,304.6 2303.0,106.2 2304.2,319.5 2305.5,113.2 2306.8,277.4 2308.0,119.9 2309.2,295.6 2310.5,118.5 2311.8,300.1 2313.0,114.0 2314.2,304.8 2315.5,68.1 2316.8,327.4 2318.0,91.0 2319.2,330.2 2320.5,73.9 2321.8,321.9 2323.0,99.5 2324.2,323.5 2325.5,99.3 2326.8,275.8 2328.0,109.7 2329.2,304.1 2330.5,112.4 2331.8,278.9 2333.0,86.4 2334.2,316.3 2335.5,102.4 2336.8,290.0 2338.0,112.0 2339.2,288.7 2340.5,115.7 2341.8,319.2 2343.0,123.3 2344.2,309.3 2345.5,116.2 2346.8,269.5 2348.0,102.0 2349.2,295.5 2350.5,113.7 2351.8,305.3 2353.0,108.2 2354.2,281.0 2355.5,98.5 2356.8,319.2 2358.0,75.0 2359.2,324.9 2360.5,101.6 2361.8,316.8 2363.0,91.0 2364.2,322.7 2365.5,98.9 2366.8,271.1 2368.0,102.6 2369.2,277.6 2370.5,83.8 2371.8,315.8"/>
<polyline stroke="#0000fb" stroke-width="3.6" points="167.0,803.5 167.5,779.3 168.8,788.9 170.1,689.8 171.4,699.4 172.7,584.3 174.0,593.9 175.3,497.4 176.6,507.0 177.9,387.5 179.2,397.1 180.5,346.7 181.8,371.7 183.1,336.6 184.4,365.0 185.7,337.2 187.0,362.5 188.3,329.6 189.6,358.7 190.9,331.1 192.2,357.9 193.5,338.9 194.8,365.7 196.1,329.6 197.4,355.5 198.7,334.4 200.0,361.4 201.3,322.4 202.6,351.0 203.9,329.4 205.2,359.9 206.5,313.7 207.8,340.7 209.1,315.5 210.4,344.9 211.7,305.0 213.0,334.6 214.3,307.7 215.6,337.4 216.9,300.1 218.2,329.2 219.5,304.3 220.8,336.3 222.1,308.2 223.4,338.3 224.7,297.0 226.0,327.6 227.3,312.2 228.6,338.7 229.9,299.7 231.2,328.3 232.5,310.9 233.8,339.6 235.1,294.9 236.4,324.3 237.7,304.9 239.0,333.1 240.3,288.3 241.6,315.7 242.9,291.4 244.2,323.1 245.5,284.5 246.8,311.0 248.1,284.1 249.4,315.7 250.7,283.4 252.0,314.1 253.3,289.8 254.6,319.8 255.9,283.5 257.2,314.8 258.5,281.3 259.8,310.4 261.1,299.2 262.4,324.9 263.7,282.6 265.0,318.0 266.3,299.9 267.6,327.8 268.9,286.3 270.2,312.8 271.5,295.0 272.8,322.8 274.1,280.8 275.4,307.1 276.7,288.8 278.0,315.5 279.3,279.4 280.6,305.2 281.9,283.0 283.2,305.2 284.5,284.0 285.8,308.0 287.1,276.4 288.4,315.1 289.7,288.7 291.0,308.7 292.3,279.8 293.6,304.8 294.9,284.8 296.2,310.3 297.5,285.2 298.8,309.6 300.1,290.2 301.4,311.0 302.7,284.0 304.0,306.3 305.3,278.1 306.6,298.8 307.9,285.8 309.2,311.0 310.5,268.8 311.8,297.8 313.1,273.6 314.4,302.4 315.7,275.0 317.0,299.9 318.3,265.1 319.6,288.3 320.9,277.1 322.2,302.0 323.5,267.5 324.8,292.9 326.1,258.3 327.4,291.9 328.7,279.4 330.0,303.5 331.3,272.7 332.6,296.6 333.9,284.8 335.2,306.5 336.5,270.3 337.8,295.8 339.1,288.0 340.4,310.8 341.7,275.6 343.0,297.9 344.3,278.0 345.6,303.7 346.9,269.8 348.2,292.5 349.5,275.6 350.8,297.4 352.1,268.4 353.4,302.6 354.7,260.1 356.0,290.5 357.3,276.8 358.6,296.5 359.9,265.0 361.2,297.7 362.5,276.5 363.8,298.3 365.1,282.4 366.4,303.2 367.7,282.2 369.0,302.4 370.3,272.0 371.6,298.3 372.9,273.6 374.2,294.3 375.5,279.0 376.8,306.0 378.1,265.6 379.4,287.6 380.7,277.0 382.0,296.8 383.3,265.4 384.6,292.3 385.9,269.2 387.2,291.7 388.5,266.9 389.8,291.3 391.1,279.3 392.4,304.9 393.7,280.5 395.0,301.5 396.3,281.8 397.6,303.6 398.9,288.5 400.2,308.9 401.5,279.3 402.8,306.3 404.1,283.9 405.4,316.5 406.7,268.3 408.0,294.7 409.3,280.2 410.6,300.0 411.9,271.4 413.2,299.8 414.5,264.4 415.8,288.6 417.1,273.7 418.4,298.4 419.7,274.6 421.0,297.4 422.3,266.8 423.6,286.3 424.9,268.5 426.2,291.7 427.5,268.9 428.8,295.7 430.1,263.4 431.4,283.6 432.7,269.6 434.0,298.3 435.3,263.4 436.6,285.3 437.9,279.7 439.2,301.0 440.5,269.6 441.8,297.5 443.1,270.2 444.4,292.5 445.7,281.0 447.0,304.4 448.3,271.6 449.6,301.4 450.9,280.1 452.2,300.4 453.5,281.5 454.8,304.7 456.1,265.5 457.4,294.8 458.7,278.2 460.0,298.6 461.3,260.8 462.6,284.1 463.9,269.0 465.2,295.0 466.5,259.5 467.8,286.9 469.1,277.1 470.4,296.9 471.7,268.9 473.0,292.4 474.3,280.4 475.6,305.7 476.9,277.3 478.2,297.8 479.5,284.8 480.8,305.6 482.1,282.0 483.4,304.6 484.7,278.5 486.0,300.0 487.3,280.8 488.6,303.1 489.9,267.7 491.2,288.2 492.5,276.0 493.8,298.4 495.1,264.3 496.4,286.1 497.7,274.5 499.0,295.4 500.3,261.5 501.6,287.0 502.9,278.2 504.2,305.3 505.5,275.6 506.8,296.8 508.1,287.2 509.4,309.6 510.7,276.8 512.0,299.2 513.3,281.2 514.6,307.0 515.9,282.2 517.2,312.7 518.5,281.8 519.8,307.0 521.1,270.8 522.4,293.0 523.7,268.1 525.0,296.9 526.3,268.2 527.6,289.3 528.9,268.1 530.2,298.0 531.5,275.5 532.8,299.1 534.1,274.1 535.4,294.7 536.7,279.6 538.0,301.6 539.3,271.4 540.6,292.5 541.9,286.9 543.2,308.6 544.5,270.9 545.8,304.9 547.1,281.9 548.4,312.4 549.7,288.9 551.0,309.4 552.3,262.3 553.6,293.2 554.9,276.3 556.2,302.5 557.5,261.5 558.8,288.7 560.1,268.9 561.4,292.9 562.7,264.2 564.0,291.6 565.3,272.9 566.6,294.0 567.9,269.1 569.2,290.0 570.5,275.8 571.8,299.0 573.1,279.7 574.4,303.1 575.7,272.6 577.0,296.1 578.3,282.0 579.6,305.9 580.9,280.8 582.2,308.6 583.5,278.5 584.8,298.9 586.1,273.0 587.4,305.7 588.7,272.0 590.0,293.0 591.3,276.8 592.6,298.7 593.9,267.8 595.2,292.4 596.5,271.2 597.8,293.8 599.1,270.1 600.4,297.3 601.7,270.2 603.0,294.2 604.3,273.5 605.6,295.3 606.9,264.5 608.2,286.0 609.5,275.6 610.8,299.4 612.1,265.9 613.4,294.6 614.7,278.5 616.0,298.6 617.3,285.9 618.6,310.1 619.9,276.7 621.2,299.3 622.5,289.8 623.8,310.3 625.1,276.6 626.4,296.1 627.7,279.3 629.0,301.1 630.3,270.5 631.6,306.1 632.9,275.5 634.2,299.5 635.5,268.3 636.8,290.1 638.1,271.9 639.4,295.3 640.7,269.4 642.0,296.9 643.3,264.3 644.6,294.4 645.9,279.5 647.2,299.3 648.5,270.6 649.8,293.7 651.1,282.2 652.4,306.2 653.7,275.9 655.0,299.1 656.3,286.4 657.6,309.7 658.9,276.2 660.2,297.1 661.5,280.6 662.8,302.5 664.1,270.3 665.4,292.7 666.7,260.8 668.0,289.3 669.3,272.7 670.6,296.5 671.9,261.4 673.2,283.6 674.5,273.2 675.8,302.6 677.1,270.8 678.4,291.6 679.7,275.6 681.0,303.3 682.3,280.4 683.6,302.1 684.9,271.9 686.2,292.6 687.5,285.3 688.8,308.1 690.1,278.6 691.4,299.9 692.7,283.4 694.0,306.3 695.3,273.3 696.6,297.3 697.9,280.5 699.2,301.8 700.5,267.4 701.8,289.2 703.1,264.6 704.4,286.7 705.7,269.9 707.0,291.3 708.3,260.4 709.6,283.2 710.9,259.3 712.2,279.2 713.5,266.9 714.8,290.0 716.1,258.7 717.4,281.5 718.7,269.7 720.0,299.6 721.3,267.7 722.6,290.3 723.9,282.6 725.2,305.4 726.5,272.1 727.8,297.6 729.1,282.0 730.4,312.9 731.7,272.8 733.0,297.9 734.3,276.8 735.6,301.5 736.9,255.7 738.2,284.6 739.5,272.1 740.8,295.2 742.1,267.0 743.4,289.1 744.7,261.4 746.0,289.0 747.3,275.6 748.6,301.4 749.9,268.1 751.2,287.6 752.5,274.7 753.8,301.3 755.1,271.2 756.4,296.3 757.7,275.9 759.0,300.4 760.3,283.6 761.6,308.9 762.9,273.5 764.2,294.7 765.5,271.3 766.8,302.4 768.1,265.2 769.4,291.9 770.7,282.2 772.0,303.8 773.3,256.3 774.6,284.7 775.9,270.4 777.2,292.5 778.5,246.7 779.8,293.0 781.1,255.3 782.4,277.9 783.7,269.6 785.0,292.9 786.3,263.6 787.6,291.0 788.9,269.5 790.2,291.7 791.5,274.3 792.8,297.6 794.1,271.8 795.4,297.4 796.7,281.2 798.0,301.8 799.3,275.5 800.6,302.1 801.9,268.7 803.2,297.3 804.5,279.1 805.8,310.4 807.1,266.9 808.4,287.9 809.7,272.5 811.0,299.5 812.3,259.6 813.6,287.4 814.9,274.2 816.2,299.9 817.5,270.1 818.8,290.5 820.1,275.6 821.4,298.2 822.7,283.3 824.0,313.6 825.3,272.0 826.6,294.9 827.9,286.9 829.2,317.4 830.5,277.7 831.8,299.0 833.1,282.6 834.4,304.3 835.7,271.9 837.0,294.4 838.3,278.8 839.6,298.5 840.9,266.3 842.2,286.8 843.5,266.6 844.8,289.2 846.1,266.1 847.4,290.3 848.7,266.0 850.0,293.3 851.3,276.0 852.6,297.4 853.9,266.6 855.2,295.6 856.5,278.2 857.8,300.0 859.1,271.3 860.4,293.9 861.7,277.7 863.0,306.7 864.3,277.0 865.6,301.4 866.9,273.3 868.2,298.5 869.5,280.8 870.8,302.7 872.1,272.0 873.4,295.7 874.7,271.1 876.0,291.7 877.3,270.5 878.6,290.5 879.9,266.8 881.2,287.1 882.5,258.2 883.8,285.5 885.1,271.4 886.4,299.7 887.7,261.9 889.0,286.8 890.3,282.5 891.6,308.1 892.9,276.7 894.2,302.4 895.5,280.3 896.8,304.3 898.1,278.1 899.4,301.0 900.7,278.4 902.0,300.5 903.3,288.1 904.6,310.2 905.9,272.5 907.2,296.1 908.5,278.5 909.8,302.1 911.1,267.3 912.4,291.0 913.7,275.9 915.0,298.5 916.3,261.6 917.6,291.3 918.9,271.1 920.2,293.4 921.5,275.7 922.8,300.2 924.1,262.3 925.4,288.4 926.7,282.1 928.0,305.1 929.3,275.3 930.6,301.1 931.9,282.6 933.2,302.4 934.5,270.2 935.8,298.5 937.1,280.7 938.4,301.9 939.7,277.3 941.0,299.0 942.3,268.2 943.6,291.0 944.9,273.5 946.2,303.2 947.5,259.4 948.8,288.8 950.1,272.8 951.4,293.6 952.7,263.8 954.0,286.3 955.3,276.2 956.6,299.4 957.9,270.2 959.2,293.2 960.5,271.0 961.8,292.8 963.1,275.3 964.4,300.9 965.7,271.0 967.0,294.7 968.3,284.6 969.6,308.7 970.9,270.9 972.2,299.4 973.5,280.1 974.8,306.0 976.1,265.6 977.4,290.3 978.7,277.9 980.0,302.3 981.3,262.2 982.6,287.4 983.9,276.7 985.2,296.3 986.5,276.0 987.8,295.9 989.1,267.0 990.4,288.0 991.7,278.3 993.0,306.5 994.3,269.3 995.6,293.6 996.9,280.3 998.2,303.5 999.5,276.8 1000.8,300.4 1002.1,280.5 1003.4,302.3 1004.7,285.5 1006.0,307.9 1007.3,275.8 1008.6,297.6 1009.9,285.5 1011.2,305.6 1012.5,260.9 1013.8,287.5 1015.1,273.1 1016.4,294.1 1017.7,257.6 1019.0,279.6 1020.3,268.9 1021.6,288.2 1022.9,263.6 1024.2,284.1 1025.5,264.5 1026.8,287.9 1028.1,267.3 1029.4,292.9 1030.7,274.1 1032.0,297.1 1033.3,267.9 1034.6,292.9 1035.9,282.0 1037.2,302.6 1038.5,272.4 1039.8,293.3 1041.1,285.1 1042.4,308.1 1043.7,275.3 1045.0,297.1 1046.3,278.5 1047.6,304.8 1048.9,266.8 1050.2,291.2 1051.5,270.6 1052.8,297.0 1054.1,261.3 1055.4,283.4 1056.7,269.5 1058.0,291.7 1059.3,259.4 1060.6,289.2 1061.9,273.9 1063.2,299.5 1064.5,271.7 1065.8,293.6 1067.1,266.2 1068.4,289.4 1069.7,284.2 1071.0,305.5 1072.3,273.6 1073.6,298.9 1074.9,283.0 1076.2,306.4 1077.5,273.0 1078.8,296.4 1080.1,284.7 1081.4,304.4 1082.7,265.3 1084.0,288.7 1085.3,270.6 1086.6,290.2 1087.9,254.8 1089.2,281.0 1090.5,271.1 1091.8,294.5 1093.1,257.4 1094.4,280.8 1095.7,271.5 1097.0,291.5 1098.3,273.6 1099.6,293.4 1100.9,267.8 1102.2,289.4 1103.5,276.1 1104.8,297.7 1106.1,270.1 1107.4,293.2 1108.7,275.5 1110.0,296.8 1111.3,277.6 1112.6,298.3 1113.9,270.8 1115.2,291.8 1116.5,281.9 1117.8,305.8 1119.1,269.5 1120.4,292.3 1121.7,275.2 1123.0,299.3 1124.3,274.8 1125.6,299.0 1126.9,267.4 1128.2,293.5 1129.5,280.3 1130.8,304.9 1132.1,272.8 1133.4,295.9 1134.7,282.5 1136.0,303.5 1137.3,272.6 1138.6,294.5 1139.9,279.4 1141.2,301.1 1142.5,276.0 1143.8,295.6 1145.1,275.9 1146.4,299.0 1147.7,283.0 1149.0,304.4 1150.3,269.9 1151.6,291.7 1152.9,283.3 1154.2,303.4 1155.5,269.4 1156.8,291.7 1158.1,278.5 1159.4,304.0 1160.7,262.3 1162.0,283.3 1163.3,270.7 1164.6,293.0 1165.9,250.5 1167.2,280.9 1168.5,258.1 1169.8,291.1 1171.1,265.3 1172.4,287.0 1173.7,264.3 1175.0,292.7 1176.3,278.4 1177.6,301.6 1178.9,271.2 1180.2,294.8 1181.5,281.1 1182.8,306.6 1184.1,275.3 1185.4,299.3 1186.7,276.8 1188.0,299.0 1189.3,283.6 1190.6,305.6 1191.9,268.7 1193.2,292.1 1194.5,269.9 1195.8,295.8 1197.1,282.1 1198.4,301.5 1199.7,268.5 1201.0,294.7 1202.3,275.1 1203.6,302.3 1204.9,271.0 1206.2,291.2 1207.5,279.7 1208.8,306.6 1210.1,269.6 1211.4,297.0 1212.7,285.8 1214.0,306.0 1215.3,273.5 1216.6,297.7 1217.9,286.1 1219.2,310.6 1220.5,267.5 1221.8,291.2 1223.1,275.2 1224.4,298.3 1225.7,262.0 1227.0,286.6 1228.3,270.6 1229.6,294.6 1230.9,264.8 1232.2,287.6 1233.5,266.6 1234.8,290.8 1236.1,265.1 1237.4,286.4 1238.7,268.1 1240.0,291.1 1241.3,265.6 1242.6,290.9 1243.9,269.8 1245.2,296.9 1246.5,278.6 1247.8,301.5 1249.1,274.8 1250.4,299.5 1251.7,274.5 1253.0,298.5 1254.3,278.1 1255.6,300.8 1256.9,261.6 1258.2,299.7 1259.5,272.7 1260.8,294.1 1262.1,263.5 1263.4,286.3 1264.7,273.1 1266.0,302.4 1267.3,271.2 1268.6,292.3 1269.9,209.4 1271.2,231.1 1272.5,199.7 1273.8,220.3 1275.1,186.3 1276.4,209.8 1277.7,189.1 1279.0,214.1 1280.3,181.2 1281.6,201.5 1282.9,185.2 1284.2,207.3 1285.5,181.8 1286.8,203.8 1288.1,190.8 1289.4,211.1 1290.7,173.3 1292.0,197.3 1293.3,183.4 1294.6,205.3 1295.9,163.5 1297.2,187.7 1298.5,167.4 1299.8,192.9 1301.1,155.5 1302.4,178.3 1303.7,168.9 1305.0,189.7 1306.3,166.2 1307.6,189.2 1308.9,172.6 1310.2,201.8 1311.5,164.7 1312.8,190.3 1314.1,179.1 1315.4,199.2 1316.7,173.6 1318.0,195.1 1319.3,167.9 1320.6,189.3 1321.9,172.0 1323.2,194.5 1324.5,157.4 1325.8,180.8 1327.1,169.5 1328.4,195.5 1329.7,162.8 1331.0,185.2 1332.3,166.1 1333.6,188.0 1334.9,169.0 1336.2,193.0 1337.5,156.0 1338.8,181.3 1340.1,166.4 1341.4,196.5 1342.7,158.2 1344.0,180.0 1345.3,160.4 1346.6,183.8 1347.9,168.2 1349.2,190.2 1350.5,164.8 1351.8,186.7 1353.1,178.7 1354.4,202.7 1355.7,163.8 1357.0,190.9 1358.3,173.9 1359.6,201.5 1360.9,168.6 1362.2,189.1 1363.5,170.2 1364.8,194.1 1366.1,167.1 1367.4,189.0 1368.7,165.7 1370.0,186.5 1371.3,152.3 1372.6,176.8 1373.9,160.9 1375.2,182.7 1376.5,159.8 1377.8,179.8 1379.1,151.1 1380.4,176.4 1381.7,169.1 1383.0,190.2 1384.3,159.6 1385.6,181.2 1386.9,169.5 1388.2,194.9 1389.5,164.2 1390.8,187.8 1392.1,172.1 1393.4,195.5 1394.7,162.2 1396.0,183.1 1397.3,161.7 1398.6,189.4 1399.9,163.8 1401.2,195.7 1402.5,155.6 1403.8,178.8 1405.1,161.8 1406.4,185.9 1407.7,152.0 1409.0,181.0 1410.3,161.9 1411.6,183.9 1412.9,152.3 1414.2,176.1 1415.5,166.3 1416.8,192.3 1418.1,157.3 1419.4,186.1 1420.7,175.9 1422.0,200.2 1423.3,162.4 1424.6,188.7 1425.9,175.4 1427.2,203.5 1428.5,173.4 1429.8,196.3 1431.1,166.5 1432.4,186.5 1433.7,169.4 1435.0,191.2 1436.3,153.7 1437.6,179.2 1438.9,169.1 1440.2,190.1 1441.5,166.4 1442.8,186.3 1444.1,154.9 1445.4,180.7 1446.7,164.9 1448.0,188.6 1449.3,158.3 1450.6,189.3 1451.9,160.2 1453.2,188.4 1454.5,161.0 1455.8,180.9 1457.1,163.0 1458.4,183.2 1459.7,175.1 1461.0,196.2 1462.3,166.2 1463.6,189.2 1464.9,174.6 1466.2,195.5 1467.5,166.8 1468.8,187.3 1470.1,168.8 1471.4,192.9 1472.7,154.9 1474.0,175.9 1475.3,165.2 1476.6,186.5 1477.9,155.7 1479.2,175.8 1480.5,167.8 1481.8,188.8 1483.1,157.6 1484.4,180.7 1485.7,162.8 1487.0,191.3 1488.3,169.0 1489.6,194.1 1490.9,172.4 1492.2,191.9 1493.5,173.5 1494.8,197.9 1496.1,173.8 1497.4,195.6 1498.7,160.8 1500.0,186.2 1501.3,156.6 1502.6,182.2 1503.9,155.8 1505.2,176.7 1506.5,164.6 1507.8,187.2 1509.1,155.4 1510.4,179.9 1511.7,153.3 1513.0,176.2 1514.3,160.9 1515.6,181.9 1516.9,165.9 1518.2,188.9 1519.5,155.0 1520.8,176.7 1522.1,169.4 1523.4,190.4 1524.7,168.3 1526.0,189.1 1527.3,161.3 1528.6,184.2 1529.9,174.0 1531.2,199.8 1532.5,168.9 1533.8,189.5 1535.1,175.9 1536.4,202.5 1537.7,165.1 1539.0,186.7 1540.3,170.5 1541.6,197.8 1542.9,158.0 1544.2,178.7 1545.5,160.3 1546.8,182.2 1548.1,155.8 1549.4,177.3 1550.7,152.8 1552.0,178.9 1553.3,162.0 1554.6,189.2 1555.9,152.8 1557.2,172.9 1558.5,163.6 1559.8,184.5 1561.1,148.9 1562.4,179.4 1563.7,165.5 1565.0,184.9 1566.3,157.4 1567.6,187.2 1568.9,176.3 1570.2,197.1 1571.5,162.7 1572.8,185.4 1574.1,164.4 1575.4,191.7 1576.7,163.3 1578.0,185.7 1579.3,168.3 1580.6,193.1 1581.9,167.4 1583.2,187.1 1584.5,158.5 1585.8,181.7 1587.1,169.7 1588.4,190.5 1589.7,159.0 1591.0,182.6 1592.3,169.2 1593.6,194.7 1594.9,166.3 1596.2,186.5 1597.5,168.3 1598.8,191.0 1600.1,170.3 1601.4,199.0 1602.7,169.5 1604.0,191.4 1605.3,174.4 1606.6,200.4 1607.9,163.9 1609.2,186.5 1610.5,171.5 1611.8,193.7 1613.1,158.4 1614.4,179.4 1615.7,166.1 1617.0,188.5 1618.3,155.6 1619.6,178.6 1620.9,158.8 1622.2,182.1 1623.5,161.4 1624.8,184.0 1626.1,163.9 1627.4,186.9 1628.7,169.3 1630.0,191.0 1631.3,171.5 1632.6,192.8 1633.9,174.7 1635.2,209.2 1636.5,165.1 1637.8,184.9 1639.1,175.8 1640.4,196.7 1641.7,162.5 1643.0,184.8 1644.3,163.0 1645.6,192.9 1646.9,156.7 1648.2,181.0 1649.5,153.4 1650.8,179.7 1652.1,160.1 1653.4,184.7 1654.7,158.3 1656.0,182.6 1657.3,156.6 1658.6,185.7 1659.9,165.9 1661.2,185.9 1662.5,160.1 1663.8,181.6 1665.1,169.0 1666.4,190.5 1667.7,164.3 1669.0,191.2 1670.3,170.3 1671.6,198.6 1672.9,165.9 1674.2,187.8 1675.5,170.6 1676.8,194.8 1678.1,173.0 1679.4,195.0 1680.7,163.0 1682.0,187.1 1683.3,170.9 1684.6,192.0 1685.9,170.4 1687.2,191.2 1688.5,163.1 1689.8,188.9 1691.1,166.8 1692.4,191.7 1693.7,153.7 1695.0,176.2 1696.3,159.5 1697.6,180.1 1698.9,154.6 1700.2,176.2 1701.5,157.4 1702.8,177.8 1704.1,155.0 1705.4,188.6 1706.7,170.3 1708.0,194.6 1709.3,170.0 1710.6,197.8 1711.9,165.4 1713.2,186.3 1714.5,176.9 1715.8,201.4 1717.1,164.1 1718.4,185.5 1719.7,164.8 1721.0,193.5 1722.3,164.4 1723.6,192.9 1724.9,165.2 1726.2,190.4 1727.5,161.6 1728.8,188.7 1730.1,160.4 1731.4,182.3 1732.7,160.2 1734.0,181.1 1735.3,169.1 1736.6,191.4 1737.9,162.0 1739.2,185.9 1740.5,175.1 1741.8,195.5 1743.1,165.6 1744.4,187.9 1745.7,169.2 1747.0,194.9 1748.3,159.0 1749.6,181.3 1750.9,165.1 1752.2,187.5 1753.5,151.8 1754.8,174.6 1756.1,161.8 1757.4,183.4 1758.7,156.6 1760.0,178.0 1761.3,158.8 1762.6,180.7 1763.9,162.6 1765.2,188.0 1766.5,164.9 1767.8,186.9 1769.1,172.4 1770.4,194.4 1771.7,162.3 1773.0,186.0 1774.3,177.1 1775.6,199.1 1776.9,167.3 1778.2,186.9 1779.5,173.0 1780.8,194.3 1782.1,160.8 1783.4,181.8 1784.7,167.4 1786.0,188.6 1787.3,169.2 1788.6,190.9 1789.9,162.9 1791.2,184.4 1792.5,154.2 1793.8,176.2 1795.1,163.3 1796.4,185.0 1797.7,155.5 1799.0,184.7 1800.3,166.0 1801.6,188.7 1802.9,165.6 1804.2,195.1 1805.5,167.6 1806.8,197.1 1808.1,171.1 1809.4,194.9 1810.7,167.8 1812.0,193.5 1813.3,174.4 1814.6,196.6 1815.9,168.9 1817.2,189.6 1818.5,173.5 1819.8,206.5 1821.1,165.1 1822.4,185.1 1823.7,161.8 1825.0,189.0 1826.3,159.4 1827.6,181.5 1828.9,153.0 1830.2,173.5 1831.5,160.5 1832.8,180.5 1834.1,158.1 1835.4,187.4 1836.7,154.3 1838.0,176.8 1839.3,165.9 1840.6,190.2 1841.9,154.6 1843.2,184.4 1844.5,175.2 1845.8,196.9 1847.1,162.5 1848.4,187.4 1849.7,174.3 1851.0,194.4 1852.3,163.3 1853.6,199.2 1854.9,175.4 1856.2,195.8 1857.5,171.5 1858.8,197.6 1860.1,160.6 1861.4,186.7 1862.7,164.9 1864.0,190.4 1865.3,154.1 1866.6,177.0 1867.9,155.5 1869.2,175.0 1870.5,163.0 1871.8,188.2 1873.1,160.3 1874.4,184.5 1875.7,161.5 1877.0,184.0 1878.3,170.2 1879.6,199.4 1880.9,164.3 1882.2,189.8 1883.5,180.3 1884.8,200.2 1886.1,163.6 1887.4,186.2 1888.7,174.9 1890.0,195.0 1891.3,159.5 1892.6,181.2 1893.9,163.0 1895.2,186.2 1896.5,152.5 1897.8,172.6 1899.1,163.2 1900.4,184.7 1901.7,152.6 1903.0,172.7 1904.3,165.0 1905.6,187.3 1906.9,159.4 1908.2,181.7 1909.5,158.3 1910.8,184.5 1912.1,172.7 1913.4,196.9 1914.7,165.7 1916.0,186.1 1917.3,175.8 1918.6,198.4 1919.9,176.7 1921.2,204.1 1922.5,170.5 1923.8,191.8 1925.1,173.6 1926.4,195.5 1927.7,160.2 1929.0,181.6 1930.3,166.4 1931.6,191.2 1932.9,152.5 1934.2,173.8 1935.5,160.2 1936.8,180.6 1938.1,161.9 1939.4,183.8 1940.7,155.0 1942.0,178.4 1943.3,161.2 1944.6,184.9 1945.9,153.4 1947.2,176.8 1948.5,171.5 1949.8,196.3 1951.1,160.1 1952.4,182.2 1953.7,174.1 1955.0,197.1 1956.3,170.0 1957.6,195.8 1958.9,172.3 1960.2,196.5 1961.5,174.1 1962.8,193.8 1964.1,162.5 1965.4,185.5 1966.7,169.4 1968.0,190.3 1969.3,155.4 1970.6,175.9 1971.9,158.7 1973.2,183.3 1974.5,149.0 1975.8,171.3 1977.1,158.8 1978.4,182.7 1979.7,153.8 1981.0,180.0 1982.3,173.1 1983.6,195.0 1984.9,171.7 1986.2,195.5 1987.5,159.9 1988.8,191.2 1990.1,175.5 1991.4,199.6 1992.7,169.6 1994.0,191.6 1995.3,168.7 1996.6,189.5 1997.9,171.4 1999.2,192.0 2000.5,153.5 2001.8,180.1 2003.1,169.5 2004.4,188.8 2005.7,155.4 2007.0,177.0 2008.3,161.3 2009.6,183.7 2010.9,156.8 2012.2,182.0 2013.5,162.5 2014.8,189.3 2016.1,155.3 2017.4,178.3 2018.7,162.6 2020.0,185.1 2021.3,170.9 2022.6,193.4 2023.9,165.0 2025.2,185.7 2026.5,177.5 2027.8,199.8 2029.1,169.2 2030.4,194.7 2031.7,178.0 2033.0,202.4 2034.3,162.8 2035.6,187.6 2036.9,173.6 2038.2,194.3 2039.5,158.8 2040.8,178.9 2042.1,163.5 2043.4,191.8 2044.7,155.3 2046.0,185.9 2047.3,170.0 2048.6,192.7 2049.9,165.7 2051.2,188.1 2052.5,165.5 2053.8,188.1 2055.1,174.6 2056.4,197.8 2057.7,167.3 2059.0,189.1 2060.3,178.2 2061.6,201.0 2062.9,174.5 2064.2,196.4 2065.5,166.3 2066.8,188.1 2068.1,171.0 2069.4,191.4 2070.7,147.4 2072.0,178.7 2073.3,165.5 2074.6,188.5 2075.9,149.9 2077.2,176.5 2078.5,154.2 2079.8,176.7 2081.1,162.1 2082.4,185.0 2083.7,138.8 2085.0,171.0 2086.3,164.8 2087.6,185.0 2088.9,160.2 2090.2,185.9 2091.5,173.8 2092.8,197.0 2094.1,174.0 2095.4,194.6 2096.7,171.6 2098.0,195.7 2099.3,165.5 2100.6,188.8 2101.9,173.5 2103.2,194.2 2104.5,153.5 2105.8,183.7 2107.1,165.5 2108.4,187.2 2109.7,155.0 2111.0,186.2 2112.3,161.9 2113.6,186.5 2114.9,155.9 2116.2,182.6 2117.5,155.3 2118.8,179.5 2120.1,168.4 2121.4,189.2 2122.7,151.7 2124.0,182.0 2125.3,171.8 2126.6,195.3 2127.9,167.4 2129.2,192.6 2130.5,172.2 2131.8,197.8 2133.1,168.0 2134.4,187.3 2135.7,172.0 2137.0,199.2 2138.3,165.9 2139.6,189.6 2140.9,167.9 2142.2,188.2 2143.5,169.0 2144.8,192.2 2146.1,154.3 2147.4,178.3 2148.7,161.4 2150.0,189.9 2151.3,154.7 2152.6,176.3 2153.9,166.3 2155.2,187.7 2156.5,166.4 2157.8,188.1 2159.1,158.4 2160.4,183.9 2161.7,167.0 2163.0,189.4 2164.3,171.0 2165.6,193.1 2166.9,168.2 2168.2,188.1 2169.5,169.1 2170.8,190.8 2172.1,168.6 2173.4,195.1 2174.7,161.6 2176.0,181.2 2177.3,166.8 2178.6,187.7 2179.9,164.5 2181.2,187.0 2182.5,157.0 2183.8,178.2 2185.1,166.5 2186.4,188.2 2187.7,156.6 2189.0,177.4 2190.3,163.5 2191.6,189.9 2192.9,163.9 2194.2,185.9 2195.5,163.3 2196.8,187.5 2198.1,165.7 2199.4,193.4 2200.7,165.6 2202.0,187.9 2203.3,173.7 2204.6,195.9 2205.9,172.9 2207.2,196.7 2208.5,163.5 2209.8,193.1 2211.1,163.2 2212.4,188.0 2213.7,165.0 2215.0,188.5 2216.3,157.3 2217.6,181.1 2218.9,158.2 2220.2,182.9 2221.5,165.6 2222.8,188.0 2224.1,151.5 2225.4,180.0 2226.7,167.6 2228.0,190.3 2229.3,162.9 2230.6,183.2 2231.9,176.7 2233.2,200.1 2234.5,165.0 2235.8,190.3 2237.1,175.0 2238.4,197.2 2239.7,167.6 2241.0,189.1 2242.3,171.0 2243.6,193.7 2244.9,160.1 2246.2,185.7 2247.5,161.5 2248.8,186.2 2250.1,158.8 2251.4,181.7 2252.7,155.5 2254.0,180.3 2255.3,155.7 2256.6,176.2 2257.9,156.8 2259.2,177.1 2260.5,163.7 2261.8,186.8 2263.1,163.9 2264.4,186.5 2265.7,161.7 2267.0,187.1 2268.3,174.0 2269.6,204.8 2270.9,163.7 2272.2,187.7 2273.5,169.2 2274.8,197.0 2276.1,160.2 2277.4,187.2 2278.7,168.2 2280.0,192.7 2281.3,164.5 2282.6,192.5 2283.9,164.9 2285.2,186.4 2286.5,158.7 2287.8,182.2 2289.1,160.6 2290.4,182.6 2291.7,156.5 2293.0,181.1 2294.3,155.5 2295.6,175.7 2296.9,166.7 2298.2,187.2 2299.5,155.5 2300.8,180.2 2302.1,172.4 2303.4,193.9 2304.7,161.2 2306.0,185.6 2307.3,167.5 2308.6,203.5 2309.9,167.7 2311.2,190.3 2312.5,164.9 2313.8,190.9 2315.1,166.8 2316.4,194.2 2317.7,159.7 2319.0,184.3 2320.3,165.6 2321.6,187.0 2322.9,157.9 2324.2,181.9 2325.5,169.3 2326.8,190.7 2328.1,158.3 2329.4,178.7 2330.7,173.3 2332.0,198.4 2333.3,161.7 2334.6,187.6 2335.9,161.3 2337.2,181.2 2338.5,173.6 2339.8,199.6 2341.1,162.5 2342.4,201.1 2343.7,167.7 2345.0,191.9 2346.3,176.5 2347.6,197.1 2348.9,164.2 2350.2,186.7 2351.5,167.1 2352.8,200.9 2354.1,162.7 2355.4,183.9 2356.7,163.7 2358.0,190.2 2359.3,155.1 2360.6,180.5 2361.9,165.3 2363.2,193.1 2364.5,166.5 2365.8,193.1 2367.1,163.3 2368.4,184.2 2369.7,166.0 2371.0,188.1"/>
<polyline stroke="#00fb00" stroke-width="3.6" points="166.1,803.5 166.3,742.8 167.6,757.2 168.9,426.9 170.2,441.3 171.5,246.6 172.8,414.1 175.3,250.1 176.6,381.5 177.9,251.2 179.2,361.8 180.5,252.8 181.8,339.4 183.1,253.5 184.4,326.9 185.7,250.9 187.0,326.9 188.3,245.2 189.6,324.7 190.9,248.7 192.2,319.8 193.5,255.2 194.8,317.8 196.1,280.2 197.4,318.7 198.7,283.2 200.0,312.3 201.3,283.7 202.6,318.8 203.9,279.7 205.2,319.1 206.5,286.0 207.8,319.0 209.1,288.2 210.4,327.9 211.7,285.3 213.0,324.8 214.3,275.1 215.6,319.0 216.9,286.4 218.2,318.7 219.5,282.4 220.8,316.2 222.1,277.2 223.4,324.2 224.7,276.8 226.0,307.5 227.3,274.5 228.6,309.3 229.9,276.2 231.2,308.5 232.5,275.8 233.8,322.7 235.1,270.0 236.4,312.1 237.7,274.5 239.0,305.7 240.3,274.8 241.6,312.1 242.9,273.0 244.2,308.0 245.5,271.5 246.8,324.8 248.1,271.2 249.4,308.5 250.7,276.9 252.0,313.2 253.3,278.1 254.6,313.1 255.9,283.3 257.2,324.9 258.5,271.2 259.8,310.6 261.1,279.9 262.4,313.9 263.7,279.9 265.0,315.8 266.3,274.6 267.6,311.6 268.9,277.6 270.2,310.5 271.5,279.0 272.8,310.2 274.1,261.5 275.4,309.0 276.7,278.0 278.0,313.1 279.3,270.3 280.6,312.2 281.9,263.9 283.2,310.9 284.5,271.8 285.8,316.4 287.1,276.6 288.4,309.5 289.7,278.5 291.0,322.1 292.3,271.0 293.6,308.6 294.9,283.7 296.2,316.9 297.5,283.8 298.8,315.4 300.1,282.0 301.4,312.4 302.7,277.5 304.0,307.2 305.3,269.1 306.6,305.8 307.9,268.4 309.2,311.4 310.5,257.3 311.8,308.9 313.1,271.6 314.4,312.9 315.7,275.4 317.0,318.6 318.3,282.0 319.6,310.5 320.9,283.2 322.2,317.6 323.5,283.4 324.8,316.4 326.1,271.4 327.4,317.2 328.7,275.4 330.0,309.0 331.3,279.2 332.6,313.0 333.9,279.3 335.2,312.3 336.5,283.1 337.8,315.6 339.1,275.5 340.4,323.5 341.7,280.7 343.0,313.9 344.3,270.7 345.6,305.7 346.9,269.3 348.2,305.0 349.5,270.8 350.8,307.5 352.1,277.5 353.4,313.0 354.7,279.3 356.0,310.9 357.3,270.0 358.6,309.9 359.9,275.2 361.2,308.5 362.5,277.3 363.8,305.9 365.1,276.9 366.4,315.3 367.7,274.7 369.0,307.0 370.3,264.8 371.6,312.7 372.9,281.1 374.2,310.1 375.5,268.6 376.8,312.1 378.1,279.4 379.4,308.7 380.7,274.0 382.0,314.5 383.3,274.1 384.6,319.7 385.9,282.2 387.2,313.4 388.5,260.0 389.8,323.8 391.1,280.2 392.4,317.4 393.7,282.4 395.0,311.6 396.3,271.0 397.6,310.1 398.9,275.7 400.2,304.8 401.5,274.5 402.8,311.0 404.1,275.3 405.4,317.5 406.7,273.8 408.0,312.4 409.3,279.7 410.6,315.2 411.9,287.4 413.2,320.0 414.5,280.1 415.8,311.9 417.1,271.9 418.4,311.1 419.7,283.6 421.0,314.3 422.3,276.7 423.6,311.2 424.9,278.4 426.2,308.3 427.5,285.6 428.8,316.4 430.1,273.6 431.4,316.5 432.7,281.8 434.0,311.9 435.3,279.1 436.6,327.2 437.9,281.6 439.2,313.9 440.5,279.2 441.8,312.5 443.1,264.7 444.4,309.8 445.7,277.9 447.0,309.7 448.3,273.0 449.6,309.3 450.9,275.4 452.2,321.1 453.5,275.0 454.8,317.6 456.1,275.5 457.4,313.8 458.7,262.5 460.0,308.3 461.3,278.2 462.6,308.2 463.9,264.0 465.2,312.3 466.5,279.5 467.8,311.2 469.1,280.6 470.4,315.5 471.7,279.2 473.0,308.8 474.3,279.2 475.6,308.7 476.9,274.6 478.2,320.6 479.5,281.9 480.8,317.3 482.1,281.4 483.4,316.1 484.7,282.7 486.0,325.8 487.3,285.7 488.6,318.6 489.9,282.3 491.2,317.5 492.5,285.0 493.8,314.6 495.1,281.7 496.4,317.3 497.7,276.0 499.0,304.7 500.3,275.3 501.6,308.0 502.9,263.4 504.2,300.5 505.5,267.2 506.8,318.7 508.1,271.8 509.4,307.3 510.7,275.1 512.0,310.5 513.3,275.6 514.6,307.0 515.9,267.9 517.2,310.2 518.5,272.3 519.8,311.9 521.1,272.5 522.4,304.1 523.7,275.6 525.0,309.0 526.3,279.9 527.6,307.8 528.9,286.1 530.2,315.8 531.5,288.2 532.8,320.4 534.1,274.6 535.4,324.2 536.7,271.8 538.0,325.8 539.3,283.6 540.6,317.5 541.9,274.9 543.2,319.2 544.5,282.5 545.8,320.0 547.1,280.4 548.4,318.0 549.7,281.7 551.0,310.0 552.3,269.2 553.6,318.5 554.9,276.6 556.2,307.3 557.5,274.5 558.8,305.7 560.1,270.9 561.4,302.6 562.7,272.0 564.0,305.6 565.3,277.6 566.6,309.1 567.9,279.1 569.2,308.8 570.5,277.4 571.8,308.7 573.1,279.5 574.4,312.2 575.7,278.8 577.0,330.8 578.3,281.7 579.6,309.6 580.9,275.4 582.2,309.4 583.5,275.3 584.8,310.6 586.1,269.9 587.4,314.0 588.7,269.3 590.0,309.4 591.3,281.8 592.6,309.3 593.9,282.6 595.2,315.7 596.5,282.7 597.8,318.3 599.1,285.8 600.4,322.2 601.7,279.9 603.0,326.5 604.3,264.2 605.6,314.3 606.9,276.7 608.2,323.7 609.5,281.3 610.8,311.3 612.1,275.8 613.4,305.5 614.7,275.8 616.0,312.4 617.3,269.0 618.6,307.3 619.9,265.8 621.2,313.5 622.5,277.6 623.8,307.3 625.1,280.9 626.4,312.2 627.7,280.6 629.0,320.4 630.3,282.7 631.6,317.9 632.9,277.1 634.2,311.9 635.5,284.1 636.8,322.8 638.1,279.3 639.4,314.6 640.7,284.2 642.0,315.1 643.3,283.1 644.6,311.6 645.9,275.3 647.2,311.9 648.5,274.8 649.8,310.2 651.1,279.7 652.4,317.8 653.7,265.7 655.0,304.6 656.3,276.0 657.6,303.5 658.9,274.8 660.2,310.2 661.5,274.2 662.8,304.5 664.1,265.9 665.4,303.9 666.7,267.6 668.0,306.8 669.3,275.3 670.6,314.1 671.9,270.0 673.2,306.6 674.5,277.1 675.8,308.7 677.1,280.8 678.4,316.6 679.7,280.4 681.0,317.3 682.3,277.8 683.6,311.1 684.9,275.0 686.2,307.8 687.5,279.9 688.8,311.1 690.1,271.8 691.4,310.8 692.7,274.9 694.0,304.9 695.3,264.8 696.6,312.0 697.9,272.2 699.2,320.3 700.5,269.9 701.8,303.1 703.1,278.2 704.4,311.5 705.7,280.9 707.0,310.0 708.3,273.1 709.6,312.8 710.9,274.2 712.2,309.8 713.5,276.5 714.8,310.4 716.1,275.5 717.4,315.0 718.7,270.7 720.0,310.1 721.3,271.1 722.6,311.0 723.9,278.0 725.2,316.3 726.5,273.5 727.8,310.9 729.1,272.1 730.4,309.2 731.7,273.1 733.0,312.8 734.3,263.2 735.6,311.8 736.9,276.3 738.2,313.6 739.5,248.5 740.8,312.8 742.1,281.8 743.4,320.6 744.7,277.8 746.0,310.6 747.3,278.7 748.6,312.6 749.9,274.0 751.2,317.1 752.5,268.8 753.8,301.4 755.1,266.0 756.4,300.9 757.7,273.6 759.0,303.6 760.3,261.3 761.6,305.4 762.9,270.8 764.2,303.5 765.5,275.4 766.8,317.1 768.1,279.0 769.4,314.4 770.7,279.8 772.0,317.5 773.3,280.5 774.6,314.2 775.9,285.1 777.2,313.2 778.5,281.6 779.8,315.9 781.1,271.4 782.4,320.4 783.7,279.5 785.0,307.7 786.3,273.9 787.6,316.1 788.9,280.5 790.2,315.7 791.5,277.5 792.8,314.9 794.1,286.2 795.4,321.8 796.7,282.8 798.0,313.1 799.3,281.5 800.6,311.7 801.9,278.4 803.2,307.8 804.5,275.5 805.8,307.2 807.1,273.1 808.4,307.6 809.7,270.2 811.0,301.5 812.3,266.2 813.6,300.1 814.9,257.9 816.2,307.7 817.5,272.7 818.8,304.9 820.1,263.9 821.4,305.9 822.7,275.3 824.0,308.2 825.3,274.3 826.6,307.4 827.9,272.9 829.2,314.1 830.5,278.1 831.8,309.4 833.1,278.9 834.4,307.4 835.7,276.3 837.0,326.3 838.3,275.5 839.6,305.9 840.9,277.3 842.2,307.8 843.5,273.4 844.8,306.2 846.1,275.6 847.4,309.7 848.7,273.6 850.0,311.8 851.3,276.6 852.6,314.6 853.9,268.9 855.2,305.6 856.5,275.1 857.8,306.8 859.1,265.8 860.4,313.7 861.7,278.1 863.0,312.1 864.3,274.1 865.6,307.6 866.9,277.9 868.2,306.8 869.5,275.8 870.8,311.1 872.1,269.3 873.4,308.4 874.7,264.4 876.0,303.9 877.3,274.6 878.6,306.2 879.9,275.0 881.2,309.5 882.5,279.4 883.8,316.0 885.1,280.7 886.4,315.2 887.7,276.9 889.0,317.0 890.3,275.8 891.6,311.8 892.9,275.7 894.2,304.7 895.5,278.4 896.8,309.7 898.1,264.9 899.4,302.3 900.7,274.3 902.0,306.6 903.3,277.1 904.6,307.7 905.9,277.2 907.2,309.2 908.5,273.0 909.8,318.5 911.1,277.0 912.4,314.7 913.7,276.9 915.0,317.1 916.3,277.0 917.6,307.0 918.9,263.6 920.2,309.9 921.5,278.1 922.8,306.9 924.1,276.2 925.4,304.8 926.7,275.8 928.0,304.5 929.3,274.0 930.6,309.9 931.9,274.6 933.2,305.2 934.5,269.4 935.8,308.9 937.1,280.3 938.4,314.0 939.7,285.9 941.0,321.4 942.3,277.6 943.6,316.6 944.9,277.8 946.2,315.9 947.5,274.7 948.8,314.1 950.1,273.0 951.4,320.7 952.7,277.6 954.0,311.2 955.3,280.8 956.6,318.0 957.9,282.5 959.2,320.0 960.5,286.8 961.8,326.8 963.1,284.3 964.4,318.1 965.7,265.8 967.0,314.9 968.3,274.8 969.6,311.0 970.9,272.4 972.2,310.6 973.5,280.9 974.8,311.5 976.1,278.1 977.4,307.7 978.7,275.4 980.0,306.0 981.3,278.8 982.6,309.9 983.9,270.0 985.2,309.9 986.5,280.3 987.8,310.6 989.1,268.8 990.4,313.6 991.7,281.7 993.0,316.1 994.3,276.9 995.6,330.3 996.9,273.0 998.2,320.1 999.5,273.6 1000.8,311.9 1002.1,277.4 1003.4,308.0 1004.7,269.2 1006.0,311.0 1007.3,269.2 1008.6,300.2 1009.9,266.6 1011.2,310.9 1012.5,278.4 1013.8,308.6 1015.1,275.1 1016.4,309.0 1017.7,267.7 1019.0,319.8 1020.3,274.0 1021.6,311.6 1022.9,271.7 1024.2,310.0 1025.5,275.6 1026.8,306.6 1028.1,279.2 1029.4,309.5 1030.7,266.7 1032.0,307.9 1033.3,278.7 1034.6,313.0 1035.9,273.8 1037.2,310.0 1038.5,278.3 1039.8,313.5 1041.1,269.9 1042.4,318.3 1043.7,274.9 1045.0,302.8 1046.3,275.8 1047.6,308.3 1048.9,270.9 1050.2,306.9 1051.5,272.7 1052.8,305.4 1054.1,276.4 1055.4,316.5 1056.7,283.8 1058.0,315.0 1059.3,280.7 1060.6,324.1 1061.9,272.7 1063.2,322.0 1064.5,273.7 1065.8,309.5 1067.1,282.6 1068.4,318.1 1069.7,269.9 1071.0,306.5 1072.3,267.1 1073.6,310.4 1074.9,262.7 1076.2,309.7 1077.5,278.1 1078.8,312.1 1080.1,275.0 1081.4,304.7 1082.7,274.4 1084.0,313.4 1085.3,278.7 1086.6,316.8 1087.9,276.5 1089.2,314.2 1090.5,284.7 1091.8,312.7 1093.1,288.3 1094.4,322.3 1095.7,282.3 1097.0,313.5 1098.3,277.3 1099.6,314.3 1100.9,280.2 1102.2,311.9 1103.5,277.9 1104.8,319.8 1106.1,275.8 1107.4,309.5 1108.7,253.8 1110.0,330.8 1111.3,287.2 1112.6,316.2 1113.9,287.0 1115.2,315.9 1116.5,272.8 1117.8,320.8 1119.1,276.4 1120.4,313.0 1121.7,274.2 1123.0,308.9 1124.3,280.9 1125.6,312.3 1126.9,282.3 1128.2,315.1 1129.5,277.4 1130.8,311.4 1132.1,269.7 1133.4,311.9 1134.7,278.3 1136.0,314.0 1137.3,274.6 1138.6,316.9 1139.9,273.6 1141.2,314.6 1142.5,283.2 1143.8,310.4 1145.1,275.5 1146.4,311.1 1147.7,276.0 1149.0,305.7 1150.3,272.1 1151.6,302.8 1152.9,274.8 1154.2,305.8 1155.5,274.7 1156.8,304.9 1158.1,277.6 1159.4,307.6 1160.7,275.5 1162.0,309.7 1163.3,281.2 1164.6,313.0 1165.9,281.2 1167.2,321.1 1168.5,280.9 1169.8,313.4 1171.1,281.3 1172.4,312.1 1173.7,279.5 1175.0,309.2 1176.3,273.0 1177.6,313.6 1178.9,277.9 1180.2,307.6 1181.5,275.5 1182.8,313.5 1184.1,280.9 1185.4,316.5 1186.7,276.0 1188.0,310.3 1189.3,275.9 1190.6,307.4 1191.9,277.8 1193.2,309.3 1194.5,276.8 1195.8,307.3 1197.1,279.3 1198.4,335.8 1199.7,280.6 1201.0,311.3 1202.3,279.3 1203.6,309.0 1204.9,276.7 1206.2,308.0 1207.5,275.5 1208.8,313.1 1210.1,272.4 1211.4,309.7 1212.7,263.6 1214.0,308.9 1215.3,270.8 1216.6,307.4 1217.9,277.2 1219.2,322.1 1220.5,280.2 1221.8,313.0 1223.1,279.9 1224.4,311.7 1225.7,282.6 1227.0,316.4 1228.3,280.9 1229.6,315.5 1230.9,280.4 1232.2,315.4 1233.5,263.8 1234.8,314.0 1236.1,275.0 1237.4,314.2 1238.7,269.9 1240.0,306.6 1241.3,282.4 1242.6,311.3 1243.9,282.1 1245.2,310.9 1246.5,282.5 1247.8,315.1 1249.1,280.5 1250.4,318.5 1251.7,280.0 1253.0,318.6 1254.3,282.4 1255.6,311.4 1256.9,283.7 1258.2,318.3 1259.5,280.6 1260.8,311.8 1262.1,274.0 1263.4,318.7 1264.7,281.7 1266.0,312.5 1267.3,193.9 1268.6,223.8 1269.9,164.5 1271.2,197.1 1272.5,167.2 1273.8,215.4 1275.1,148.0 1276.4,192.1 1277.7,166.8 1279.0,205.0 1280.3,167.1 1281.6,220.3 1282.9,163.9 1284.2,197.7 1285.5,169.0 1286.8,205.0 1288.1,171.9 1289.4,207.6 1290.7,168.2 1292.0,207.6 1293.3,180.7 1294.6,210.1 1295.9,179.3 1297.2,226.6 1298.5,175.8 1299.8,210.1 1301.1,167.2 1302.4,207.6 1303.7,156.5 1305.0,203.0 1306.3,167.4 1307.6,199.2 1308.9,173.5 1310.2,207.0 1311.5,168.8 1312.8,208.0 1314.1,167.9 1315.4,203.7 1316.7,178.9 1318.0,221.4 1319.3,181.0 1320.6,210.5 1321.9,162.0 1323.2,209.0 1324.5,167.1 1325.8,212.1 1327.1,180.7 1328.4,217.0 1329.7,179.3 1331.0,210.7 1332.3,164.3 1333.6,213.8 1334.9,169.1 1336.2,225.9 1337.5,157.5 1338.8,207.9 1340.1,166.6 1341.4,211.6 1342.7,170.4 1344.0,197.9 1345.3,170.6 1346.6,200.8 1347.9,170.3 1349.2,200.1 1350.5,150.2 1351.8,216.9 1353.1,172.0 1354.4,204.0 1355.7,172.1 1357.0,204.9 1358.3,150.4 1359.6,213.0 1360.9,170.8 1362.2,209.5 1363.5,171.6 1364.8,207.0 1366.1,163.9 1367.4,205.6 1368.7,165.1 1370.0,203.8 1371.3,173.4 1372.6,207.4 1373.9,170.7 1375.2,226.2 1376.5,168.4 1377.8,200.8 1379.1,167.3 1380.4,197.6 1381.7,165.4 1383.0,197.0 1384.3,171.3 1385.6,198.3 1386.9,170.6 1388.2,207.8 1389.5,170.1 1390.8,199.1 1392.1,172.5 1393.4,207.7 1394.7,175.2 1396.0,211.6 1397.3,162.9 1398.6,204.2 1399.9,171.7 1401.2,205.3 1402.5,178.8 1403.8,214.4 1405.1,168.4 1406.4,204.7 1407.7,174.9 1409.0,203.1 1410.3,171.2 1411.6,205.2 1412.9,170.2 1414.2,205.3 1415.5,173.4 1416.8,207.2 1418.1,173.3 1419.4,207.8 1420.7,168.2 1422.0,209.9 1423.3,170.7 1424.6,205.0 1425.9,150.6 1427.2,212.0 1428.5,173.8 1429.8,206.8 1431.1,165.1 1432.4,206.9 1433.7,170.1 1435.0,208.3 1436.3,177.6 1437.6,206.0 1438.9,161.3 1440.2,211.8 1441.5,180.6 1442.8,209.6 1444.1,179.7 1445.4,210.4 1446.7,182.0 1448.0,214.2 1449.3,182.0 1450.6,216.4 1451.9,181.8 1453.2,213.3 1454.5,180.8 1455.8,212.9 1457.1,181.4 1458.4,210.8 1459.7,177.2 1461.0,215.1 1462.3,175.9 1463.6,215.6 1464.9,184.4 1466.2,216.1 1467.5,175.5 1468.8,213.9 1470.1,181.9 1471.4,211.2 1472.7,175.1 1474.0,211.7 1475.3,175.5 1476.6,213.3 1477.9,165.4 1479.2,201.9 1480.5,176.2 1481.8,205.0 1483.1,170.5 1484.4,211.1 1485.7,167.1 1487.0,204.4 1488.3,174.4 1489.6,208.4 1490.9,174.5 1492.2,210.3 1493.5,175.8 1494.8,207.8 1496.1,174.2 1497.4,211.0 1498.7,174.8 1500.0,211.7 1501.3,167.3 1502.6,204.7 1503.9,170.4 1505.2,208.3 1506.5,173.5 1507.8,202.3 1509.1,172.5 1510.4,204.0 1511.7,173.5 1513.0,203.1 1514.3,171.5 1515.6,200.4 1516.9,172.2 1518.2,209.7 1519.5,173.1 1520.8,208.1 1522.1,170.8 1523.4,216.0 1524.7,172.4 1526.0,204.0 1527.3,171.6 1528.6,202.4 1529.9,166.2 1531.2,207.4 1532.5,164.0 1533.8,199.4 1535.1,163.7 1536.4,200.2 1537.7,172.2 1539.0,201.6 1540.3,167.8 1541.6,204.2 1542.9,167.4 1544.2,204.6 1545.5,177.2 1546.8,204.7 1548.1,176.5 1549.4,206.2 1550.7,173.4 1552.0,211.2 1553.3,159.9 1554.6,208.6 1555.9,176.5 1557.2,220.3 1558.5,177.9 1559.8,209.8 1561.1,179.9 1562.4,207.4 1563.7,176.9 1565.0,204.6 1566.3,167.6 1567.6,216.8 1568.9,173.8 1570.2,207.5 1571.5,174.0 1572.8,205.4 1574.1,173.9 1575.4,210.6 1576.7,179.6 1578.0,209.8 1579.3,179.9 1580.6,214.7 1581.9,183.7 1583.2,213.2 1584.5,167.1 1585.8,213.2 1587.1,176.1 1588.4,212.8 1589.7,173.8 1591.0,209.9 1592.3,174.9 1593.6,207.8 1594.9,167.3 1596.2,206.1 1597.5,169.8 1598.8,211.4 1600.1,167.4 1601.4,204.0 1602.7,173.4 1604.0,203.3 1605.3,174.9 1606.6,206.2 1607.9,167.6 1609.2,207.6 1610.5,166.5 1611.8,198.8 1613.1,163.6 1614.4,196.3 1615.7,158.2 1617.0,193.7 1618.3,160.4 1619.6,194.6 1620.9,155.1 1622.2,195.3 1623.5,146.0 1624.8,193.7 1626.1,162.4 1627.4,199.8 1628.7,168.0 1630.0,199.9 1631.3,167.1 1632.6,204.7 1633.9,176.1 1635.2,206.7 1636.5,174.1 1637.8,204.0 1639.1,179.3 1640.4,206.8 1641.7,162.8 1643.0,222.1 1644.3,168.7 1645.6,201.3 1646.9,171.3 1648.2,202.2 1649.5,164.9 1650.8,211.0 1652.1,166.1 1653.4,199.0 1654.7,168.8 1656.0,204.1 1657.3,171.2 1658.6,202.0 1659.9,151.8 1661.2,195.0 1662.5,147.8 1663.8,203.7 1665.1,168.8 1666.4,202.9 1667.7,172.2 1669.0,201.5 1670.3,167.8 1671.6,201.3 1672.9,165.4 1674.2,205.6 1675.5,169.6 1676.8,203.9 1678.1,163.1 1679.4,197.7 1680.7,165.6 1682.0,202.5 1683.3,152.7 1684.6,194.9 1685.9,164.6 1687.2,196.1 1688.5,167.1 1689.8,195.0 1691.1,159.0 1692.4,199.5 1693.7,170.2 1695.0,202.5 1696.3,168.9 1697.6,204.7 1698.9,166.8 1700.2,206.2 1701.5,164.3 1702.8,194.3 1704.1,159.0 1705.4,192.4 1706.7,145.7 1708.0,197.8 1709.3,162.6 1710.6,205.0 1711.9,164.2 1713.2,198.8 1714.5,158.3 1715.8,208.0 1717.1,174.3 1718.4,202.0 1719.7,174.0 1721.0,209.9 1722.3,173.0 1723.6,206.8 1724.9,177.6 1726.2,218.1 1727.5,178.7 1728.8,207.3 1730.1,178.9 1731.4,216.1 1732.7,171.2 1734.0,200.8 1735.3,168.1 1736.6,203.6 1737.9,158.9 1739.2,199.8 1740.5,159.1 1741.8,205.9 1743.1,164.6 1744.4,194.2 1745.7,160.3 1747.0,194.7 1748.3,152.6 1749.6,196.3 1750.9,162.4 1752.2,198.7 1753.5,164.8 1754.8,203.2 1756.1,168.8 1757.4,205.1 1758.7,151.5 1760.0,206.1 1761.3,182.1 1762.6,214.8 1763.9,182.3 1765.2,213.5 1766.5,177.4 1767.8,206.9 1769.1,178.3 1770.4,208.8 1771.7,173.2 1773.0,206.6 1774.3,165.7 1775.6,201.1 1776.9,166.8 1778.2,202.2 1779.5,171.1 1780.8,200.6 1782.1,168.5 1783.4,198.3 1784.7,169.8 1786.0,198.1 1787.3,170.0 1788.6,205.4 1789.9,162.8 1791.2,206.9 1792.5,173.1 1793.8,206.9 1795.1,165.8 1796.4,216.5 1797.7,175.7 1799.0,212.8 1800.3,171.4 1801.6,206.2 1802.9,173.7 1804.2,209.6 1805.5,173.8 1806.8,204.4 1808.1,165.3 1809.4,202.5 1810.7,175.4 1812.0,204.8 1813.3,165.1 1814.6,209.2 1815.9,172.8 1817.2,208.5 1818.5,180.1 1819.8,208.7 1821.1,178.7 1822.4,207.7 1823.7,171.7 1825.0,206.3 1826.3,174.6 1827.6,202.7 1828.9,170.5 1830.2,203.9 1831.5,169.3 1832.8,221.4 1834.1,168.9 1835.4,199.1 1836.7,166.7 1838.0,219.4 1839.3,154.0 1840.6,214.9 1841.9,165.0 1843.2,199.7 1844.5,167.9 1845.8,210.3 1847.1,164.5 1848.4,199.8 1849.7,167.5 1851.0,202.6 1852.3,160.0 1853.6,198.0 1854.9,168.1 1856.2,205.3 1857.5,168.6 1858.8,204.2 1860.1,167.6 1861.4,204.5 1862.7,168.6 1864.0,196.8 1865.3,167.7 1866.6,201.9 1867.9,169.7 1869.2,198.6 1870.5,166.3 1871.8,198.6 1873.1,166.0 1874.4,198.9 1875.7,171.8 1877.0,199.6 1878.3,164.4 1879.6,201.7 1880.9,172.5 1882.2,203.6 1883.5,161.1 1884.8,216.1 1886.1,174.8 1887.4,207.6 1888.7,172.9 1890.0,207.0 1891.3,175.5 1892.6,215.5 1893.9,172.5 1895.2,210.3 1896.5,168.0 1897.8,211.2 1899.1,171.0 1900.4,199.9 1901.7,172.8 1903.0,202.5 1904.3,170.4 1905.6,198.3 1906.9,161.2 1908.2,201.7 1909.5,169.3 1910.8,200.9 1912.1,171.6 1913.4,215.8 1914.7,166.0 1916.0,197.7 1917.3,171.7 1918.6,204.9 1919.9,172.0 1921.2,204.8 1922.5,170.8 1923.8,208.7 1925.1,164.4 1926.4,215.0 1927.7,165.6 1929.0,203.9 1930.3,170.2 1931.6,212.6 1932.9,173.7 1934.2,205.7 1935.5,171.5 1936.8,201.1 1938.1,171.9 1939.4,201.2 1940.7,171.8 1942.0,203.2 1943.3,171.4 1944.6,200.4 1945.9,159.1 1947.2,195.9 1948.5,173.8 1949.8,209.0 1951.1,173.0 1952.4,204.8 1953.7,171.1 1955.0,203.8 1956.3,168.4 1957.6,204.2 1958.9,170.3 1960.2,214.9 1961.5,165.8 1962.8,197.3 1964.1,166.6 1965.4,207.3 1966.7,169.2 1968.0,221.1 1969.3,166.1 1970.6,208.4 1971.9,165.9 1973.2,200.6 1974.5,174.5 1975.8,204.9 1977.1,166.6 1978.4,202.6 1979.7,166.4 1981.0,203.8 1982.3,171.5 1983.6,203.3 1984.9,172.3 1986.2,203.3 1987.5,168.1 1988.8,199.7 1990.1,172.9 1991.4,201.1 1992.7,156.2 1994.0,198.1 1995.3,165.5 1996.6,207.3 1997.9,155.6 1999.2,198.3 2000.5,156.7 2001.8,203.4 2003.1,160.4 2004.4,195.1 2005.7,166.8 2007.0,199.0 2008.3,161.9 2009.6,208.4 2010.9,166.9 2012.2,197.9 2013.5,175.1 2014.8,207.1 2016.1,175.2 2017.4,209.9 2018.7,154.1 2020.0,204.3 2021.3,169.8 2022.6,214.0 2023.9,171.1 2025.2,212.2 2026.5,163.3 2027.8,200.0 2029.1,171.8 2030.4,202.4 2031.7,170.4 2033.0,203.1 2034.3,166.4 2035.6,203.7 2036.9,171.5 2038.2,210.2 2039.5,167.1 2040.8,203.5 2042.1,177.3 2043.4,212.1 2044.7,179.5 2046.0,215.9 2047.3,180.3 2048.6,208.0 2049.9,173.9 2051.2,212.2 2052.5,174.9 2053.8,216.7 2055.1,156.9 2056.4,199.8 2057.7,167.8 2059.0,197.1 2060.3,169.6 2061.6,208.5 2062.9,164.9 2064.2,200.1 2065.5,160.8 2066.8,213.3 2068.1,172.9 2069.4,204.2 2070.7,145.5 2072.0,203.9 2073.3,172.8 2074.6,204.5 2075.9,167.7 2077.2,204.6 2078.5,173.7 2079.8,206.8 2081.1,175.5 2082.4,205.9 2083.7,169.8 2085.0,205.2 2086.3,172.8 2087.6,221.4 2088.9,175.6 2090.2,206.1 2091.5,175.6 2092.8,227.6 2094.1,167.4 2095.4,204.2 2096.7,174.6 2098.0,203.5 2099.3,170.7 2100.6,222.1 2101.9,179.6 2103.2,207.4 2104.5,173.6 2105.8,207.3 2107.1,179.4 2108.4,208.4 2109.7,176.9 2111.0,223.9 2112.3,174.2 2113.6,207.3 2114.9,162.2 2116.2,203.3 2117.5,144.1 2118.8,205.2 2120.1,172.9 2121.4,203.6 2122.7,172.7 2124.0,202.8 2125.3,158.0 2126.6,206.1 2127.9,178.3 2129.2,206.6 2130.5,175.2 2131.8,207.6 2133.1,178.3 2134.4,220.6 2135.7,182.0 2137.0,216.5 2138.3,180.7 2139.6,208.0 2140.9,176.9 2142.2,206.8 2143.5,175.3 2144.8,216.3 2146.1,165.9 2147.4,207.9 2148.7,168.7 2150.0,203.2 2151.3,172.3 2152.6,207.7 2153.9,167.1 2155.2,203.3 2156.5,170.9 2157.8,211.3 2159.1,162.6 2160.4,198.2 2161.7,161.3 2163.0,211.2 2164.3,168.6 2165.6,206.7 2166.9,165.2 2168.2,204.2 2169.5,173.5 2170.8,222.7 2172.1,175.6 2173.4,209.5 2174.7,171.0 2176.0,210.4 2177.3,173.0 2178.6,204.2 2179.9,177.2 2181.2,207.3 2182.5,173.8 2183.8,203.1 2185.1,172.5 2186.4,210.3 2187.7,164.7 2189.0,205.1 2190.3,165.1 2191.6,219.4 2192.9,174.4 2194.2,206.2 2195.5,170.6 2196.8,210.3 2198.1,135.1 2199.4,203.4 2200.7,161.3 2202.0,200.6 2203.3,168.0 2204.6,197.7 2205.9,159.2 2207.2,203.0 2208.5,158.4 2209.8,208.9 2211.1,168.1 2212.4,199.7 2213.7,167.7 2215.0,201.9 2216.3,164.0 2217.6,203.2 2218.9,166.4 2220.2,203.3 2221.5,165.1 2222.8,204.4 2224.1,174.8 2225.4,214.1 2226.7,171.6 2228.0,208.3 2229.3,175.9 2230.6,203.2 2231.9,171.5 2233.2,202.4 2234.5,167.3 2235.8,202.2 2237.1,166.7 2238.4,203.0 2239.7,170.2 2241.0,199.0 2242.3,155.9 2243.6,204.7 2244.9,170.6 2246.2,209.5 2247.5,164.8 2248.8,199.6 2250.1,156.8 2251.4,204.5 2252.7,172.6 2254.0,204.2 2255.3,167.1 2256.6,204.9 2257.9,164.3 2259.2,202.5 2260.5,172.7 2261.8,203.1 2263.1,174.5 2264.4,214.2 2265.7,176.1 2267.0,215.3 2268.3,174.9 2269.6,212.7 2270.9,178.7 2272.2,210.7 2273.5,175.3 2274.8,211.5 2276.1,174.8 2277.4,206.5 2278.7,176.7 2280.0,206.9 2281.3,179.1 2282.6,208.7 2283.9,179.3 2285.2,214.0 2286.5,183.9 2287.8,217.9 2289.1,176.0 2290.4,213.6 2291.7,177.8 2293.0,213.9 2294.3,180.6 2295.6,211.1 2296.9,160.5 2298.2,211.5 2299.5,174.6 2300.8,208.8 2302.1,175.9 2303.4,207.1 2304.7,179.6 2306.0,206.6 2307.3,173.5 2308.6,205.7 2309.9,167.0 2311.2,208.3 2312.5,172.4 2313.8,216.1 2315.1,170.5 2316.4,215.3 2317.7,163.1 2319.0,199.0 2320.3,162.5 2321.6,201.1 2322.9,161.5 2324.2,197.0 2325.5,165.3 2326.8,195.6 2328.1,148.1 2329.4,198.1 2330.7,169.0 2332.0,199.9 2333.3,164.1 2334.6,201.9 2335.9,167.0 2337.2,198.3 2338.5,167.5 2339.8,199.0 2341.1,155.3 2342.4,194.7 2343.7,166.1 2345.0,197.9 2346.3,167.9 2347.6,201.5 2348.9,165.8 2350.2,199.4 2351.5,168.8 2352.8,206.4 2354.1,169.0 2355.4,212.6 2356.7,172.3 2358.0,209.2 2359.3,167.4 2360.6,196.9 2361.9,158.1 2363.2,205.3 2364.5,158.1 2365.8,200.6 2367.1,166.2 2368.4,210.0 2369.7,164.1 2371.0,195.6"/>
</g>
<g id="zoom-box" fill="none" stroke="#000" stroke-width="5">
<line x1="1082.9" y1="50.5" x2="1454.8" y2="50.5" stroke-dasharray="34.2 10.47" stroke-dashoffset="9.3"/>
<line x1="1082.9" y1="458.4" x2="1454.8" y2="458.4" stroke-dasharray="34.2 10.47" stroke-dashoffset="-0.3"/>
<line x1="1085.4" y1="48" x2="1085.4" y2="460.9" stroke-dasharray="34.6 10.56" stroke-dashoffset="20.16"/>
<line x1="1452.3" y1="48" x2="1452.3" y2="460.9" stroke-dasharray="34.6 10.56" stroke-dashoffset="18.86"/>
</g>
<g id="arrows">
<line x1="1085.4" y1="458.4" x2="621.3" y2="887.8" stroke="#000" stroke-width="5.2"/><polygon fill="#000" points="603.0,904.8 613.6,876.6 632.0,896.4"/>
<line x1="1263.5" y1="458.4" x2="1142.6" y2="881.1" stroke="#000" stroke-width="5.2"/><polygon fill="#000" points="1135.7,905.1 1130.1,875.4 1156.1,882.9"/>
<line x1="1452.3" y1="458.4" x2="1872.4" y2="883.0" stroke="#000" stroke-width="5.2"/><polygon fill="#000" points="1890.0,900.8 1861.4,891.1 1880.6,872.1"/>
</g>
<g id="legend">
<rect x="1969.8" y="552" width="342.2" height="197" fill="#fff"/>
<g fill="none" stroke="#000" stroke-width="4">
<line x1="1967.8" y1="552" x2="2314" y2="552" stroke-dasharray="26 7.55" stroke-dashoffset="14.45"/>
<line x1="1967.8" y1="749" x2="2314" y2="749" stroke-dasharray="26 7.55" stroke-dashoffset="32.80"/>
<line x1="1969.8" y1="550" x2="1969.8" y2="751" stroke-dasharray="26 7.7" stroke-dashoffset="7.70"/>
<line x1="2312" y1="550" x2="2312" y2="751" stroke-dasharray="26 7.7" stroke-dashoffset="21.50"/>
</g>
<line x1="2008" y1="591.8" x2="2138" y2="591.8" stroke="#0000fb" stroke-width="12.2" stroke-linecap="round"/>
<line x1="2008" y1="650.9" x2="2138" y2="650.9" stroke="#fb0000" stroke-width="12.2" stroke-linecap="round"/>
<line x1="2008" y1="708.8" x2="2138" y2="708.8" stroke="#66fb33" stroke-width="12.2" stroke-linecap="round"/>
<g font-family="'Liberation Serif', 'Times New Roman', serif" font-weight="bold" fill="#000">
<text transform="translate(2163.5 608.3) scale(1 1.060)" font-size="45.5" text-anchor="start">PI</text><text transform="translate(2163.5 667.0) scale(1 1.060)" font-size="45.5" text-anchor="start">LSM</text><text transform="translate(2163.5 726.2) scale(1 1.060)" font-size="45.5" text-anchor="start">STSM</text>
</g></g>
<g id="main-labels" font-family="'Liberation Serif', 'Times New Roman', serif" font-weight="bold" fill="#000">
<text transform="translate(123.5 71.2) scale(1 1.050)" font-size="67.0" text-anchor="middle">16</text>
<text transform="translate(123.5 257.0) scale(1 1.050)" font-size="67.0" text-anchor="middle">12</text>
<text transform="translate(123.5 443.2) scale(1 1.050)" font-size="67.0" text-anchor="middle">8</text>
<text transform="translate(123.5 629.1) scale(1 1.050)" font-size="67.0" text-anchor="middle">4</text>
<text transform="translate(123.5 815.0) scale(1 1.050)" font-size="67.0" text-anchor="middle">0</text>
<text transform="translate(165.8 864.0) scale(1 1.050)" font-size="67.0" text-anchor="middle">0</text>
<text transform="translate(386.2 864.0) scale(1 1.050)" font-size="67.0" text-anchor="middle">1</text>
<text transform="translate(606.6 864.0) scale(1 1.050)" font-size="67.0" text-anchor="middle">2</text>
<text transform="translate(827.0 864.0) scale(1 1.050)" font-size="67.0" text-anchor="middle">3</text>
<text transform="translate(1047.4 864.0) scale(1 1.050)" font-size="67.0" text-anchor="middle">4</text>
<text transform="translate(1267.8 864.0) scale(1 1.050)" font-size="67.0" text-anchor="middle">5</text>
<text transform="translate(1488.2 864.0) scale(1 1.050)" font-size="67.0" text-anchor="middle">6</text>
<text transform="translate(1708.6 864.0) scale(1 1.050)" font-size="67.0" text-anchor="middle">7</text>
<text transform="translate(1931.0 864.0) scale(1 1.050)" font-size="67.0" text-anchor="middle">8</text>
<text transform="translate(2151.4 864.0) scale(1 1.050)" font-size="67.0" text-anchor="middle">9</text>
<text transform="translate(2372.8 864.0) scale(1 1.050)" font-size="67.0" text-anchor="middle">10</text>
<text transform="translate(1268.0 919.6) scale(1 1.050)" font-size="67.0" text-anchor="middle">Time(s)</text>
<text transform="translate(64.3 812) rotate(-90) scale(1 1.050)" font-size="67.0" text-anchor="start">CW <tspan font-style="italic">d</tspan>-axis Current <tspan font-style="italic">i</tspan><tspan font-size="42" dy="9.5">s1<tspan font-style="italic">d</tspan></tspan><tspan dy="-9.5">(A)</tspan></text>
</g>
<g id="sub1">
<g fill="none" stroke="#8c8c8c" stroke-width="2.7" stroke-dasharray="6.7 5.3">
<line x1="447.5" y1="949.0" x2="447.5" y2="1242.2"/>
<line x1="109.0" y1="1095.6" x2="786.0" y2="1095.6"/>
</g>
<g fill="none" stroke="#262626">
<rect x="100.5" y="940.5" width="694.0" height="310.2" stroke-width="3.0"/>
<path d="M447.5 940.5v8.5M447.5 1250.7v-8.5M100.5 1095.6h8.5M794.5 1095.6h-8.5" stroke-width="2.7"/>
</g>
<polyline fill="none" stroke="#0000fb" stroke-width="3.2" stroke-linejoin="bevel" shape-rendering="crispEdges" points="100.5,1098.4 101.8,1097.4 103.1,1098.2 104.5,1095.7 105.8,1093.9 107.1,1094.8 108.4,1099.8 109.7,1099.4 111.0,1098.8 112.4,1093.3 113.7,1095.0 115.0,1097.4 116.3,1105.5 117.6,1111.8 119.0,1115.0 120.3,1114.7 121.6,1109.8 122.9,1106.8 124.2,1103.4 125.6,1102.2 126.9,1103.5 128.2,1103.9 129.5,1106.7 130.8,1109.5 132.1,1109.4 133.5,1113.5 134.8,1111.4 136.1,1111.7 137.4,1110.4 138.7,1109.9 140.1,1109.2 141.4,1107.5 142.7,1106.4 144.0,1105.4 145.3,1104.7 146.7,1107.2 148.0,1108.2 149.3,1109.5 150.6,1109.5 151.9,1110.6 153.2,1110.7 154.6,1109.3 155.9,1104.4 157.2,1100.4 158.5,1096.4 159.8,1096.2 161.2,1095.5 162.5,1094.3 163.8,1094.8 165.1,1095.8 166.4,1099.2 167.7,1098.9 169.1,1103.0 170.4,1102.1 171.7,1098.4 173.0,1094.5 174.3,1088.6 175.7,1088.6 177.0,1086.6 178.3,1093.7 179.6,1093.0 180.9,1100.0 182.3,1102.9 183.6,1105.8 184.9,1104.0 186.2,1097.4 187.5,1089.9 188.8,1087.7 190.2,1087.9 191.5,1090.0 192.8,1087.9 194.1,1089.2 195.4,1091.4 196.8,1095.9 198.1,1093.3 199.4,1100.8 200.7,1107.3 202.0,1113.8 203.4,1110.5 204.7,1105.3 206.0,1100.5 207.3,1094.7 208.6,1094.1 209.9,1096.5 211.3,1098.8 212.6,1099.8 213.9,1095.2 215.2,1093.7 216.5,1093.0 217.9,1095.0 219.2,1099.2 220.5,1101.7 221.8,1105.6 223.1,1110.6 224.4,1114.8 225.8,1116.6 227.1,1111.5 228.4,1107.2 229.7,1101.4 231.0,1098.2 232.4,1093.9 233.7,1094.0 235.0,1096.3 236.3,1102.1 237.6,1107.1 239.0,1113.6 240.3,1116.8 241.6,1116.2 242.9,1108.7 244.2,1098.8 245.5,1095.5 246.9,1100.4 248.2,1106.8 249.5,1107.3 250.8,1105.5 252.1,1103.5 253.5,1110.1 254.8,1114.8 256.1,1119.4 257.4,1110.3 258.7,1100.3 260.1,1093.0 261.4,1092.9 262.7,1096.1 264.0,1097.1 265.3,1095.6 266.6,1095.4 268.0,1097.4 269.3,1104.1 270.6,1111.4 271.9,1118.0 273.2,1124.3 274.6,1120.5 275.9,1114.9 277.2,1105.5 278.5,1099.0 279.8,1094.5 281.1,1093.6 282.5,1097.6 283.8,1095.9 285.1,1096.2 286.4,1098.1 287.7,1097.4 289.1,1099.0 290.4,1101.5 291.7,1108.7 293.0,1109.6 294.3,1106.7 295.7,1099.6 297.0,1091.6 298.3,1086.7 299.6,1089.1 300.9,1094.8 302.2,1096.3 303.6,1093.6 304.9,1093.6 306.2,1099.4 307.5,1104.8 308.8,1105.4 310.2,1097.9 311.5,1092.6 312.8,1090.3 314.1,1091.3 315.4,1094.1 316.8,1093.1 318.1,1094.0 319.4,1098.1 320.7,1101.3 322.0,1106.2 323.3,1102.5 324.7,1100.2 326.0,1096.2 327.3,1093.3 328.6,1091.4 329.9,1096.4 331.3,1097.9 332.6,1097.4 333.9,1099.2 335.2,1100.8 336.5,1112.3 337.8,1117.2 339.2,1121.6 340.5,1114.6 341.8,1104.4 343.1,1095.7 344.4,1093.8 345.8,1094.0 347.1,1100.1 348.4,1101.7 349.7,1107.8 351.0,1112.1 352.4,1114.9 353.7,1117.5 355.0,1115.5 356.3,1112.7 357.6,1104.3 358.9,1101.2 360.3,1098.8 361.6,1098.2 362.9,1095.6 364.2,1097.4 365.5,1101.8 366.9,1106.7 368.2,1110.5 369.5,1115.1 370.8,1117.2 372.1,1118.5 373.5,1117.8 374.8,1110.9 376.1,1102.2 377.4,1094.7 378.7,1093.5 380.0,1095.1 381.4,1094.7 382.7,1095.0 384.0,1094.1 385.3,1097.5 386.6,1103.6 388.0,1109.4 389.3,1110.3 390.6,1103.4 391.9,1097.7 393.2,1092.6 394.5,1092.2 395.9,1096.3 397.2,1097.5 398.5,1095.4 399.8,1095.5 401.1,1097.8 402.5,1105.8 403.8,1105.8 405.1,1103.4 406.4,1095.9 407.7,1092.6 409.1,1088.8 410.4,1088.6 411.7,1089.0 413.0,1093.9 414.3,1093.5 415.6,1096.3 417.0,1098.2 418.3,1102.1 419.6,1106.7 420.9,1106.4 422.2,1111.0 423.6,1107.9 424.9,1106.2 426.2,1101.8 427.5,1097.9 428.8,1095.3 430.2,1091.1 431.5,1093.5 432.8,1099.2 434.1,1102.8 435.4,1103.6 436.7,1098.7 438.1,1097.6 439.4,1097.8 440.7,1101.8 442.0,1107.5 443.3,1114.0 444.7,1115.5 446.0,1112.3 447.3,1106.5 448.6,1101.0 449.9,1084.7 451.2,1073.9 452.6,1065.6 453.9,1067.9 455.2,1065.8 456.5,1065.6 457.8,1064.3 459.2,1069.7 460.5,1071.2 461.8,1076.2 463.1,1074.0 464.4,1068.6 465.8,1061.2 467.1,1054.4 468.4,1052.3 469.7,1054.5 471.0,1056.1 472.3,1055.8 473.7,1050.7 475.0,1049.8 476.3,1048.4 477.6,1047.7 478.9,1048.4 480.3,1047.5 481.6,1049.9 482.9,1047.6 484.2,1050.2 485.5,1055.5 486.8,1056.7 488.2,1056.5 489.5,1049.2 490.8,1045.0 492.1,1044.2 493.4,1047.2 494.8,1048.5 496.1,1042.8 497.4,1038.8 498.7,1037.7 500.0,1038.5 501.4,1039.6 502.7,1039.6 504.0,1041.5 505.3,1041.9 506.6,1041.4 507.9,1041.3 509.3,1040.7 510.6,1043.4 511.9,1043.6 513.2,1041.3 514.5,1036.8 515.9,1032.7 517.2,1031.7 518.5,1033.5 519.8,1036.7 521.1,1037.1 522.5,1034.7 523.8,1034.5 525.1,1035.4 526.4,1035.9 527.7,1035.3 529.0,1040.5 530.4,1047.7 531.7,1050.4 533.0,1047.2 534.3,1043.8 535.6,1042.5 537.0,1034.7 538.3,1030.6 539.6,1023.7 540.9,1025.2 542.2,1025.0 543.5,1031.4 544.9,1033.1 546.2,1035.4 547.5,1032.5 548.8,1035.8 550.1,1039.7 551.5,1041.3 552.8,1042.2 554.1,1039.6 555.4,1037.3 556.7,1039.0 558.1,1038.5 559.4,1038.3 560.7,1035.0 562.0,1034.8 563.3,1033.7 564.6,1033.9 566.0,1033.1 567.3,1033.6 568.6,1034.3 569.9,1034.7 571.2,1039.3 572.6,1040.6 573.9,1045.3 575.2,1047.4 576.5,1046.6 577.8,1047.0 579.2,1038.7 580.5,1034.2 581.8,1026.2 583.1,1025.9 584.4,1026.4 585.7,1025.1 587.1,1031.3 588.4,1033.6 589.7,1038.0 591.0,1036.9 592.3,1038.9 593.7,1038.7 595.0,1036.5 596.3,1037.1 597.6,1039.9 598.9,1040.0 600.2,1040.0 601.6,1041.4 602.9,1044.9 604.2,1047.2 605.5,1044.2 606.8,1042.6 608.2,1042.5 609.5,1041.2 610.8,1040.5 612.1,1037.3 613.4,1035.8 614.8,1032.1 616.1,1028.7 617.4,1025.0 618.7,1021.8 620.0,1023.1 621.3,1021.5 622.7,1021.9 624.0,1023.3 625.3,1025.0 626.6,1024.7 627.9,1024.0 629.3,1028.2 630.6,1031.0 631.9,1035.7 633.2,1034.0 634.5,1038.0 635.9,1034.5 637.2,1036.2 638.5,1033.9 639.8,1032.1 641.1,1025.6 642.4,1023.6 643.8,1022.7 645.1,1026.0 646.4,1023.4 647.7,1024.7 649.0,1024.9 650.4,1025.2 651.7,1025.1 653.0,1024.0 654.3,1027.2 655.6,1031.5 656.9,1037.3 658.3,1042.1 659.6,1040.5 660.9,1040.2 662.2,1037.8 663.5,1034.4 664.9,1029.4 666.2,1026.9 667.5,1026.6 668.8,1028.6 670.1,1026.0 671.5,1029.4 672.8,1031.0 674.1,1039.3 675.4,1043.2 676.7,1046.1 678.0,1040.2 679.4,1034.1 680.7,1030.2 682.0,1030.0 683.3,1029.8 684.6,1030.1 686.0,1030.7 687.3,1032.0 688.6,1034.4 689.9,1042.5 691.2,1048.5 692.6,1046.5 693.9,1040.3 695.2,1033.6 696.5,1030.5 697.8,1031.9 699.1,1034.4 700.5,1036.9 701.8,1032.9 703.1,1034.4 704.4,1038.2 705.7,1039.2 707.1,1042.6 708.4,1040.6 709.7,1043.1 711.0,1042.9 712.3,1045.5 713.6,1044.7 715.0,1040.3 716.3,1035.2 717.6,1027.9 718.9,1026.0 720.2,1024.2 721.6,1024.5 722.9,1020.0 724.2,1018.1 725.5,1017.9 726.8,1019.6 728.2,1023.4 729.5,1023.9 730.8,1027.4 732.1,1021.8 733.4,1021.8 734.7,1023.7 736.1,1033.4 737.4,1041.8 738.7,1043.2 740.0,1041.5 741.3,1035.8 742.7,1030.2 744.0,1022.4 745.3,1019.8 746.6,1021.3 747.9,1022.7 749.3,1024.0 750.6,1023.9 751.9,1028.3 753.2,1035.4 754.5,1039.3 755.8,1035.8 757.2,1029.1 758.5,1023.3 759.8,1024.0 761.1,1022.4 762.4,1026.7 763.8,1024.5 765.1,1026.9 766.4,1027.4 767.7,1032.0 769.0,1036.1 770.3,1040.9 771.7,1042.1 773.0,1034.7 774.3,1029.5 775.6,1028.1 776.9,1031.0 778.3,1028.6 779.6,1027.3 780.9,1026.3 782.2,1030.2 783.5,1033.8 784.9,1040.9 786.2,1043.1 787.5,1039.0 788.8,1031.1 790.1,1027.3 791.4,1030.4 792.8,1035.0 794.1,1037.7"/>
</g>
<g id="sub2">
<g fill="none" stroke="#8c8c8c" stroke-width="3.6" stroke-dasharray="11 11.2">
<line x1="1238.0" y1="950.0" x2="1238.0" y2="1242.1"/>
<line x1="901.1" y1="1096.0" x2="1575.0" y2="1096.0"/>
</g>
<g fill="none" stroke="#262626">
<rect x="892.1" y="941.0" width="691.9" height="310.1" stroke-width="4.0"/>
<path d="M1238.0 941.0v9.0M1238.0 1251.1v-9.0M892.1 1096.0h9.0M1584.0 1096.0h-9.0" stroke-width="3.6"/>
</g>
<polyline fill="none" stroke="#fb0000" stroke-width="3.2" stroke-linejoin="bevel" shape-rendering="crispEdges" points="892.1,1046.4 894.8,1134.2 897.4,1077.8 899.9,1185.1 902.3,1076.0 904.5,1161.9 906.2,1076.7 908.4,1167.9 910.3,1080.1 913.0,1165.3 914.6,1081.7 917.1,1184.1 918.8,1081.4 920.4,1137.1 922.1,1085.4 923.9,1172.1 926.2,1083.2 928.7,1174.9 930.7,1088.0 932.5,1134.2 934.6,1089.4 937.3,1125.2 939.1,1085.5 941.0,1165.1 942.9,1073.2 945.6,1162.2 947.6,1077.3 949.9,1173.1 952.3,1076.7 954.6,1129.7 956.5,1049.6 959.0,1131.6 961.4,1073.1 963.6,1190.6 965.6,1059.3 968.0,1131.3 969.9,1075.9 971.8,1190.6 973.6,1075.9 976.0,1124.3 977.7,1082.1 979.7,1171.8 981.9,1083.0 984.6,1133.7 986.4,1082.3 987.9,1187.6 990.5,1085.2 992.1,1182.6 994.5,1079.2 996.1,1165.3 998.3,1054.3 1000.2,1127.9 1002.2,1080.8 1004.2,1177.7 1006.6,1070.4 1008.3,1188.4 1010.1,1081.3 1012.3,1127.3 1014.2,1075.0 1016.0,1180.0 1018.5,1074.9 1021.2,1121.0 1023.4,1077.1 1025.3,1181.8 1027.5,1076.2 1029.3,1190.6 1031.1,1080.2 1032.8,1132.9 1035.2,1068.5 1037.5,1126.7 1040.2,1068.7 1042.5,1123.2 1044.1,1062.3 1046.0,1163.3 1048.5,1082.2 1051.1,1124.0 1052.9,1082.3 1055.2,1136.5 1057.9,1076.5 1059.8,1180.4 1061.7,1076.5 1064.2,1137.0 1065.9,1072.3 1067.5,1166.0 1069.3,1079.5 1071.5,1138.6 1074.1,1075.4 1075.9,1131.3 1077.4,1075.0 1079.1,1172.0 1081.8,1075.4 1084.4,1165.9 1087.1,1060.6 1089.8,1129.4 1091.3,1070.6 1093.1,1180.5 1094.9,1076.0 1097.1,1137.0 1099.2,1073.1 1101.6,1135.3 1104.0,1077.5 1105.9,1180.7 1107.4,1068.6 1109.4,1179.4 1111.9,1074.8 1114.6,1173.0 1116.8,1059.4 1118.6,1171.7 1120.7,1066.2 1122.8,1167.8 1124.6,1072.5 1126.5,1174.5 1128.9,1068.9 1131.4,1130.8 1134.0,1073.1 1136.4,1135.6 1138.7,1071.4 1140.6,1187.6 1142.9,1081.6 1145.0,1166.5 1146.8,1077.2 1148.9,1127.3 1151.6,1079.3 1153.3,1123.4 1155.1,1075.4 1156.7,1166.1 1158.6,1068.1 1160.1,1186.8 1162.0,1076.1 1164.2,1126.3 1166.4,1075.7 1168.6,1125.4 1170.3,1079.1 1172.2,1128.0 1174.7,1079.6 1177.2,1185.0 1179.4,1070.6 1181.0,1190.6 1183.1,1067.9 1185.3,1190.6 1187.7,1078.2 1190.3,1190.6 1193.1,1063.8 1194.7,1174.3 1197.1,1064.2 1199.0,1172.4 1201.6,1079.7 1203.9,1129.9 1205.8,1080.2 1207.5,1137.6 1210.1,1074.8 1212.4,1126.3 1214.7,1079.3 1216.8,1136.2 1218.5,1070.4 1221.1,1165.8 1222.7,1075.5 1225.2,1179.5 1227.0,1067.4 1229.0,1123.2 1231.1,1078.5 1233.6,1135.6 1235.7,1067.8 1238.4,1173.9 1240.8,1050.2 1242.6,1096.7 1244.9,985.3 1246.9,1127.8 1249.5,995.2 1251.9,1122.8 1254.1,977.4 1255.8,1124.6 1258.1,1000.7 1260.2,1128.5 1262.6,1000.7 1264.9,1071.7 1266.5,1000.8 1269.1,1062.0 1271.1,1004.1 1272.7,1128.7 1274.9,989.3 1276.5,1108.5 1279.0,1006.8 1281.2,1127.2 1283.9,997.0 1286.6,1105.7 1288.6,987.1 1290.7,1118.0 1292.3,1000.9 1294.1,1122.1 1295.9,978.5 1297.7,1068.4 1299.6,998.1 1301.2,1066.7 1303.8,995.8 1306.2,1110.5 1308.9,983.9 1311.0,1112.2 1313.3,987.2 1315.0,1068.2 1317.6,992.4 1320.3,1067.2 1321.8,992.5 1323.5,1073.7 1326.0,992.9 1327.6,1125.1 1329.9,988.8 1332.6,1130.0 1334.4,994.2 1336.1,1066.4 1337.8,990.1 1339.4,1099.2 1342.0,984.4 1344.7,1113.8 1346.9,968.7 1348.7,1112.3 1351.0,994.0 1353.8,1105.9 1356.3,967.5 1357.9,1073.3 1360.6,993.0 1362.6,1125.4 1365.0,1000.4 1367.4,1062.0 1369.2,993.9 1371.2,1122.7 1373.2,1003.1 1374.9,1061.9 1376.5,1002.4 1379.3,1074.7 1381.0,1000.6 1383.2,1066.5 1384.9,1005.3 1387.2,1136.4 1389.8,1001.7 1391.4,1136.4 1393.0,1000.8 1395.5,1072.1 1398.1,1000.4 1400.5,1106.9 1402.7,991.0 1405.4,1117.1 1407.1,993.0 1409.0,1073.2 1410.8,997.5 1413.0,1063.3 1414.6,998.0 1417.3,1129.3 1419.7,1000.8 1422.1,1113.9 1424.5,1008.6 1426.8,1131.0 1428.8,1005.9 1431.0,1077.1 1432.8,1004.2 1434.8,1109.8 1437.2,1010.8 1439.1,1113.3 1441.5,993.4 1443.4,1068.6 1445.1,988.4 1447.3,1062.7 1449.4,990.4 1452.1,1121.3 1454.3,1003.4 1455.9,1066.0 1457.8,998.2 1460.5,1109.9 1462.2,993.9 1463.8,1077.8 1465.9,1007.3 1467.6,1102.9 1470.2,986.0 1472.8,1114.6 1474.6,1005.9 1476.6,1067.7 1478.2,996.5 1480.2,1116.4 1482.3,1000.8 1484.6,1070.7 1486.9,1000.6 1489.0,1121.3 1491.7,1000.5 1493.6,1073.7 1496.2,998.4 1498.1,1078.0 1500.1,989.7 1502.6,1063.0 1504.5,994.2 1506.2,1106.4 1508.2,996.0 1510.2,1071.1 1512.4,997.6 1514.6,1070.0 1517.3,992.8 1519.5,1072.9 1521.9,1000.3 1524.3,1124.7 1526.1,999.3 1527.7,1066.9 1529.7,1003.0 1531.3,1070.4 1533.1,996.9 1535.3,1062.9 1536.9,1001.6 1538.7,1067.3 1540.4,1001.4 1542.0,1075.5 1544.2,1002.0 1545.9,1074.0 1548.7,989.4 1550.2,1123.4 1552.8,981.7 1555.1,1067.5 1557.1,987.6 1559.6,1124.5 1561.5,988.7 1564.0,1072.9 1565.8,1000.2 1567.7,1113.6 1569.3,958.1 1571.1,1068.3 1573.4,998.0 1575.1,1079.4 1576.9,993.6 1579.4,1110.1 1581.0,981.2 1583.3,1109.0"/>
</g>
<g id="sub3">
<g fill="none" stroke="#8c8c8c" stroke-width="2.7" stroke-dasharray="10.7 9.8">
<line x1="2028.3" y1="949.1" x2="2028.3" y2="1241.8"/>
<line x1="1690.2" y1="1095.5" x2="2366.3" y2="1095.5"/>
</g>
<g fill="none" stroke="#262626">
<rect x="1681.6" y="940.5" width="693.4" height="309.9" stroke-width="3.3"/>
<path d="M2028.3 940.5v8.7M2028.3 1250.4v-8.7M1681.6 1095.5h8.7M2375.0 1095.5h-8.7" stroke-width="2.7"/>
</g>
<polyline fill="none" stroke="#00fb00" stroke-width="2.9" stroke-linejoin="bevel" shape-rendering="crispEdges" points="1681.6,1099.4 1682.8,1115.0 1684.1,1104.3 1685.3,1116.1 1686.6,1097.4 1687.8,1114.0 1689.1,1102.6 1690.3,1111.7 1691.6,1092.3 1692.8,1117.3 1694.1,1104.0 1695.3,1116.4 1696.6,1103.4 1697.8,1122.0 1699.1,1109.4 1700.3,1117.5 1701.6,1104.9 1702.8,1115.6 1704.1,1104.8 1705.3,1113.1 1706.6,1094.5 1707.8,1112.8 1709.1,1099.5 1710.3,1108.7 1711.6,1097.1 1712.8,1113.6 1714.1,1104.1 1715.3,1112.5 1716.5,1101.1 1717.8,1122.4 1719.0,1100.3 1720.3,1110.0 1721.5,1097.2 1722.8,1112.7 1724.0,1106.5 1725.3,1116.3 1726.5,1102.7 1727.8,1124.6 1729.0,1107.6 1730.3,1122.4 1731.5,1105.5 1732.8,1117.4 1734.0,1107.2 1735.3,1117.1 1736.5,1100.6 1737.8,1112.1 1739.0,1099.9 1740.3,1110.9 1741.5,1101.1 1742.8,1132.3 1744.0,1100.6 1745.3,1113.0 1746.5,1104.5 1747.8,1116.3 1749.0,1094.1 1750.2,1119.9 1751.5,1101.0 1752.7,1118.4 1754.0,1100.6 1755.2,1109.5 1756.5,1097.6 1757.7,1114.3 1759.0,1101.8 1760.2,1112.1 1761.5,1100.8 1762.7,1118.8 1764.0,1096.3 1765.2,1109.5 1766.5,1099.1 1767.7,1115.0 1769.0,1089.8 1770.2,1115.2 1771.5,1101.9 1772.7,1113.1 1774.0,1095.8 1775.2,1113.4 1776.5,1091.4 1777.7,1113.8 1779.0,1101.6 1780.2,1127.0 1781.4,1098.6 1782.7,1104.5 1783.9,1092.0 1785.2,1104.1 1786.4,1093.4 1787.7,1103.2 1788.9,1095.7 1790.2,1105.7 1791.4,1091.8 1792.7,1112.4 1793.9,1097.6 1795.2,1108.1 1796.4,1096.9 1797.7,1124.6 1798.9,1097.7 1800.2,1111.8 1801.4,1089.6 1802.7,1114.6 1803.9,1106.6 1805.2,1121.6 1806.4,1105.8 1807.7,1126.5 1808.9,1106.4 1810.2,1120.4 1811.4,1110.0 1812.7,1121.3 1813.9,1107.9 1815.1,1109.7 1816.4,1097.4 1817.6,1111.7 1818.9,1100.2 1820.1,1108.0 1821.4,1101.2 1822.6,1116.5 1823.9,1104.3 1825.1,1115.3 1826.4,1102.9 1827.6,1118.8 1828.9,1107.3 1830.1,1125.5 1831.4,1104.2 1832.6,1126.6 1833.9,1100.9 1835.1,1123.7 1836.4,1114.4 1837.6,1128.9 1838.9,1105.3 1840.1,1122.8 1841.4,1098.7 1842.6,1125.1 1843.9,1104.5 1845.1,1118.8 1846.4,1106.5 1847.6,1115.3 1848.8,1086.5 1850.1,1116.2 1851.3,1106.4 1852.6,1117.5 1853.8,1086.5 1855.1,1116.7 1856.3,1101.1 1857.6,1117.9 1858.8,1103.3 1860.1,1115.3 1861.3,1105.1 1862.6,1121.9 1863.8,1110.5 1865.1,1126.6 1866.3,1102.4 1867.6,1120.4 1868.8,1107.1 1870.1,1119.2 1871.3,1108.2 1872.6,1117.1 1873.8,1099.1 1875.1,1114.7 1876.3,1105.1 1877.6,1114.2 1878.8,1103.4 1880.1,1123.1 1881.3,1098.9 1882.5,1114.9 1883.8,1098.8 1885.0,1119.4 1886.3,1095.5 1887.5,1118.5 1888.8,1101.8 1890.0,1115.1 1891.3,1100.4 1892.5,1125.4 1893.8,1110.4 1895.0,1116.6 1896.3,1108.1 1897.5,1118.3 1898.8,1109.4 1900.0,1123.2 1901.3,1111.8 1902.5,1130.9 1903.8,1107.5 1905.0,1117.0 1906.3,1100.4 1907.5,1123.9 1908.8,1101.8 1910.0,1121.9 1911.3,1100.8 1912.5,1123.4 1913.8,1096.0 1915.0,1118.4 1916.2,1099.4 1917.5,1112.8 1918.7,1102.2 1920.0,1112.4 1921.2,1105.0 1922.5,1118.9 1923.7,1105.4 1925.0,1122.7 1926.2,1106.3 1927.5,1121.4 1928.7,1111.9 1930.0,1125.6 1931.2,1097.6 1932.5,1118.9 1933.7,1105.8 1935.0,1117.2 1936.2,1094.6 1937.5,1114.9 1938.7,1102.1 1940.0,1124.9 1941.2,1100.2 1942.5,1129.8 1943.7,1100.4 1945.0,1117.9 1946.2,1103.3 1947.4,1117.8 1948.7,1092.1 1949.9,1113.0 1951.2,1097.4 1952.4,1130.3 1953.7,1097.4 1954.9,1119.4 1956.2,1097.3 1957.4,1103.3 1958.7,1089.3 1959.9,1110.0 1961.2,1088.4 1962.4,1118.0 1963.7,1101.5 1964.9,1111.5 1966.2,1100.5 1967.4,1111.0 1968.7,1104.9 1969.9,1129.0 1971.2,1099.9 1972.4,1114.1 1973.7,1103.6 1974.9,1114.1 1976.2,1098.8 1977.4,1112.7 1978.7,1099.6 1979.9,1109.4 1981.1,1100.5 1982.4,1118.0 1983.6,1102.5 1984.9,1117.5 1986.1,1105.8 1987.4,1121.4 1988.6,1095.8 1989.9,1127.5 1991.1,1100.9 1992.4,1123.1 1993.6,1106.8 1994.9,1124.8 1996.1,1109.1 1997.4,1119.2 1998.6,1105.0 1999.9,1118.4 2001.1,1111.3 2002.4,1117.5 2003.6,1105.0 2004.9,1124.8 2006.1,1102.1 2007.4,1121.4 2008.6,1104.3 2009.9,1116.2 2011.1,1108.8 2012.4,1126.7 2013.6,1107.8 2014.8,1120.2 2016.1,1103.6 2017.3,1123.4 2018.6,1099.5 2019.8,1121.2 2021.1,1109.1 2022.3,1123.7 2023.6,1111.4 2024.8,1122.0 2026.1,1110.8 2027.3,1117.9 2028.6,1105.0 2029.8,1101.6 2031.1,1076.9 2032.3,1082.2 2033.6,1056.4 2034.8,1051.8 2036.1,1025.9 2037.3,1037.8 2038.6,1021.6 2039.8,1037.1 2041.1,1018.4 2042.3,1045.0 2043.6,1026.3 2044.8,1040.5 2046.1,1029.4 2047.3,1041.9 2048.5,1032.0 2049.8,1050.6 2051.0,1032.8 2052.3,1048.9 2053.5,1035.2 2054.8,1054.5 2056.0,1040.9 2057.3,1050.4 2058.5,1040.5 2059.8,1058.6 2061.0,1035.9 2062.3,1044.4 2063.5,1031.4 2064.8,1044.4 2066.0,1035.3 2067.3,1048.0 2068.5,1036.7 2069.8,1048.1 2071.0,1034.1 2072.3,1047.0 2073.5,1031.3 2074.8,1040.8 2076.0,1029.5 2077.3,1039.1 2078.5,1024.6 2079.8,1052.0 2081.0,1028.6 2082.2,1041.7 2083.5,1024.2 2084.7,1040.3 2086.0,1032.1 2087.2,1037.7 2088.5,1026.7 2089.7,1038.4 2091.0,1031.9 2092.2,1040.1 2093.5,1029.5 2094.7,1043.2 2096.0,1034.3 2097.2,1051.8 2098.5,1033.1 2099.7,1053.0 2101.0,1027.9 2102.2,1045.2 2103.5,1029.7 2104.7,1040.0 2106.0,1029.3 2107.2,1049.3 2108.5,1029.6 2109.7,1037.9 2111.0,1025.6 2112.2,1036.0 2113.4,1025.1 2114.7,1041.7 2115.9,1026.5 2117.2,1038.6 2118.4,1026.5 2119.7,1044.1 2120.9,1016.1 2122.2,1039.2 2123.4,1027.6 2124.7,1038.5 2125.9,1030.3 2127.2,1040.0 2128.4,1027.3 2129.7,1042.5 2130.9,1025.6 2132.2,1049.6 2133.4,1032.2 2134.7,1043.2 2135.9,1027.0 2137.2,1040.9 2138.4,1032.0 2139.7,1042.1 2140.9,1030.4 2142.2,1043.5 2143.4,1031.5 2144.7,1044.4 2145.9,1032.2 2147.1,1039.5 2148.4,1027.9 2149.6,1051.8 2150.9,1033.0 2152.1,1041.6 2153.4,1035.4 2154.6,1044.7 2155.9,1033.1 2157.1,1042.5 2158.4,1029.2 2159.6,1040.2 2160.9,1026.6 2162.1,1042.9 2163.4,1029.7 2164.6,1047.7 2165.9,1038.9 2167.1,1060.3 2168.4,1038.8 2169.6,1050.1 2170.9,1044.5 2172.1,1057.9 2173.4,1047.0 2174.6,1057.5 2175.9,1044.1 2177.1,1066.0 2178.4,1029.0 2179.6,1058.4 2180.8,1044.3 2182.1,1053.6 2183.3,1045.3 2184.6,1058.6 2185.8,1045.5 2187.1,1059.0 2188.3,1042.6 2189.6,1054.4 2190.8,1040.9 2192.1,1051.6 2193.3,1036.6 2194.6,1049.3 2195.8,1032.3 2197.1,1054.4 2198.3,1036.4 2199.6,1053.9 2200.8,1044.5 2202.1,1063.5 2203.3,1042.6 2204.6,1052.5 2205.8,1037.7 2207.1,1060.1 2208.3,1037.2 2209.6,1049.4 2210.8,1037.8 2212.1,1051.1 2213.3,1034.9 2214.5,1049.9 2215.8,1040.6 2217.0,1049.1 2218.3,1032.2 2219.5,1050.3 2220.8,1016.0 2222.0,1049.2 2223.3,1030.3 2224.5,1051.1 2225.8,1022.7 2227.0,1044.8 2228.3,1027.1 2229.5,1039.0 2230.8,1019.7 2232.0,1039.4 2233.3,1027.6 2234.5,1038.2 2235.8,1031.7 2237.0,1046.1 2238.3,1029.4 2239.5,1039.5 2240.8,1019.0 2242.0,1046.7 2243.3,1035.8 2244.5,1047.1 2245.8,1033.0 2247.0,1041.8 2248.2,1028.0 2249.5,1041.1 2250.7,1023.6 2252.0,1047.8 2253.2,1013.9 2254.5,1042.4 2255.7,1027.5 2257.0,1044.0 2258.2,1030.8 2259.5,1043.1 2260.7,1033.1 2262.0,1039.5 2263.2,1027.2 2264.5,1048.4 2265.7,1029.1 2267.0,1044.9 2268.2,1023.5 2269.5,1047.9 2270.7,1033.0 2272.0,1050.3 2273.2,1041.2 2274.5,1050.6 2275.7,1038.7 2277.0,1060.4 2278.2,1032.6 2279.4,1045.8 2280.7,1034.5 2281.9,1050.8 2283.2,1034.3 2284.4,1043.4 2285.7,1031.4 2286.9,1048.1 2288.2,1029.5 2289.4,1047.6 2290.7,1032.1 2291.9,1047.1 2293.2,1031.7 2294.4,1055.7 2295.7,1030.6 2296.9,1051.7 2298.2,1024.7 2299.4,1041.2 2300.7,1031.4 2301.9,1057.9 2303.2,1033.2 2304.4,1044.1 2305.7,1031.7 2306.9,1048.0 2308.2,1037.0 2309.4,1041.6 2310.7,1021.8 2311.9,1048.1 2313.1,1031.3 2314.4,1047.5 2315.6,1028.0 2316.9,1040.4 2318.1,1029.8 2319.4,1042.4 2320.6,1031.7 2321.9,1042.1 2323.1,1023.8 2324.4,1038.8 2325.6,1025.8 2326.9,1045.5 2328.1,1032.4 2329.4,1044.6 2330.6,1034.2 2331.9,1049.6 2333.1,1035.8 2334.4,1050.0 2335.6,1030.6 2336.9,1041.1 2338.1,1027.3 2339.4,1035.2 2340.6,1022.7 2341.9,1045.9 2343.1,1026.2 2344.4,1046.2 2345.6,1021.4 2346.8,1044.7 2348.1,1031.1 2349.3,1039.2 2350.6,1021.5 2351.8,1041.3 2353.1,1029.9 2354.3,1048.3 2355.6,1024.5 2356.8,1046.2 2358.1,1034.1 2359.3,1043.1 2360.6,1027.7 2361.8,1039.6 2363.1,1020.3 2364.3,1039.2 2365.6,1025.4 2366.8,1042.2 2368.1,1027.5 2369.3,1041.2 2370.6,1032.5 2371.8,1045.4 2373.1,1034.3 2374.3,1042.7"/>
</g>
<g id="sub-labels" font-family="'Liberation Serif', 'Times New Roman', serif" font-weight="bold" fill="#000">
<text transform="translate(56.0 967.5) scale(1 1.050)" font-size="67.0" text-anchor="middle">16</text><text transform="translate(56.0 1118.0) scale(1 1.050)" font-size="67.0" text-anchor="middle">11</text><text transform="translate(56.0 1269.0) scale(1 1.050)" font-size="67.0" text-anchor="middle">6</text>
<text transform="translate(845.2 967.5) scale(1 1.050)" font-size="67.0" text-anchor="middle">16</text><text transform="translate(845.2 1118.0) scale(1 1.050)" font-size="67.0" text-anchor="middle">11</text><text transform="translate(845.2 1269.0) scale(1 1.050)" font-size="67.0" text-anchor="middle">6</text>
<text transform="translate(1637.5 967.5) scale(1 1.050)" font-size="67.0" text-anchor="middle">16</text><text transform="translate(1637.5 1118.0) scale(1 1.050)" font-size="67.0" text-anchor="middle">11</text><text transform="translate(1637.5 1269.0) scale(1 1.050)" font-size="67.0" text-anchor="middle">6</text>
<text transform="translate(113.2 1317.0) scale(1 1.050)" font-size="67.0" text-anchor="middle">4.5</text><text transform="translate(446.8 1317.0) scale(1 1.050)" font-size="67.0" text-anchor="middle">5</text><text transform="translate(775.0 1317.0) scale(1 1.050)" font-size="67.0" text-anchor="middle">5.5</text>
<text transform="translate(904.7 1317.0) scale(1 1.050)" font-size="67.0" text-anchor="middle">4.5</text><text transform="translate(1238.6 1317.0) scale(1 1.050)" font-size="67.0" text-anchor="middle">5</text><text transform="translate(1567.0 1317.0) scale(1 1.050)" font-size="67.0" text-anchor="middle">5.5</text>
<text transform="translate(1697.0 1317.0) scale(1 1.050)" font-size="67.0" text-anchor="middle">4.5</text><text transform="translate(2028.3 1317.0) scale(1 1.050)" font-size="67.0" text-anchor="middle">5</text><text transform="translate(2362.1 1317.0) scale(1 1.050)" font-size="67.0" text-anchor="middle">5.5</text>
</g>
<g id="annotations" stroke="#000" fill="none" stroke-linecap="round">
<line x1="448" y1="1032.5" x2="448" y2="1082" stroke-width="5.5"/>
<line x1="635" y1="1032.5" x2="635" y2="1082" stroke-width="4.6"/>
<line x1="470" y1="1057.3" x2="612" y2="1057.3" stroke-width="5.5" stroke-linecap="butt"/>
<g stroke="none"><polygon fill="#000" points="450.7,1057.3 474.7,1043.9 474.7,1057.3 474.7,1070.7"/><polygon fill="#000" points="632.8,1057.3 608.4,1043.9 608.4,1057.3 608.4,1070.7"/></g>
<line x1="1238.5" y1="1024.8" x2="1238.5" y2="1074.5" stroke-width="4.7"/>
<line x1="1252.9" y1="1024.8" x2="1252.9" y2="1074.5" stroke-width="4.2"/>
<line x1="1176.5" y1="1049.3" x2="1216" y2="1049.3" stroke-width="5"/>
<line x1="1275" y1="1049.3" x2="1315.2" y2="1049.3" stroke-width="5"/>
<g stroke="none"><polygon fill="#000" points="1236.1,1049.3 1211.1,1035.9 1214.5,1049.3 1211.1,1062.7"/><polygon fill="#000" points="1254.9,1049.3 1279.9,1035.9 1276.5,1049.3 1279.9,1062.7"/></g>
<line x1="2028.5" y1="1042.6" x2="2028.5" y2="1091.8" stroke-width="4.7"/>
<line x1="2041.5" y1="1042.6" x2="2041.5" y2="1091.8" stroke-width="4.7"/>
<line x1="1966.5" y1="1067.5" x2="2006" y2="1067.5" stroke-width="5"/>
<line x1="2064" y1="1067.5" x2="2104" y2="1067.5" stroke-width="5"/>
<g stroke="none"><polygon fill="#000" points="2026.1,1067.5 2001.1,1054.1 2004.5,1067.5 2001.1,1080.9"/><polygon fill="#000" points="2043.9,1067.5 2068.9,1054.1 2065.5,1067.5 2068.9,1080.9"/></g>
</g>
<g id="anno-text" font-family="'Liberation Serif', 'Times New Roman', serif" font-weight="bold" fill="#000">
<text transform="translate(462.8 1114.6) scale(1 1.040)" font-size="59.5" text-anchor="start">0.268s</text>
<text transform="translate(1167.2 1117.0) scale(1 1.040)" font-size="59.5" text-anchor="start">0.018s</text>
<text transform="translate(1958.3 1134.8) scale(1 1.040)" font-size="59.5" text-anchor="start">0.015s</text>
</g>
</svg>
</body></html>
